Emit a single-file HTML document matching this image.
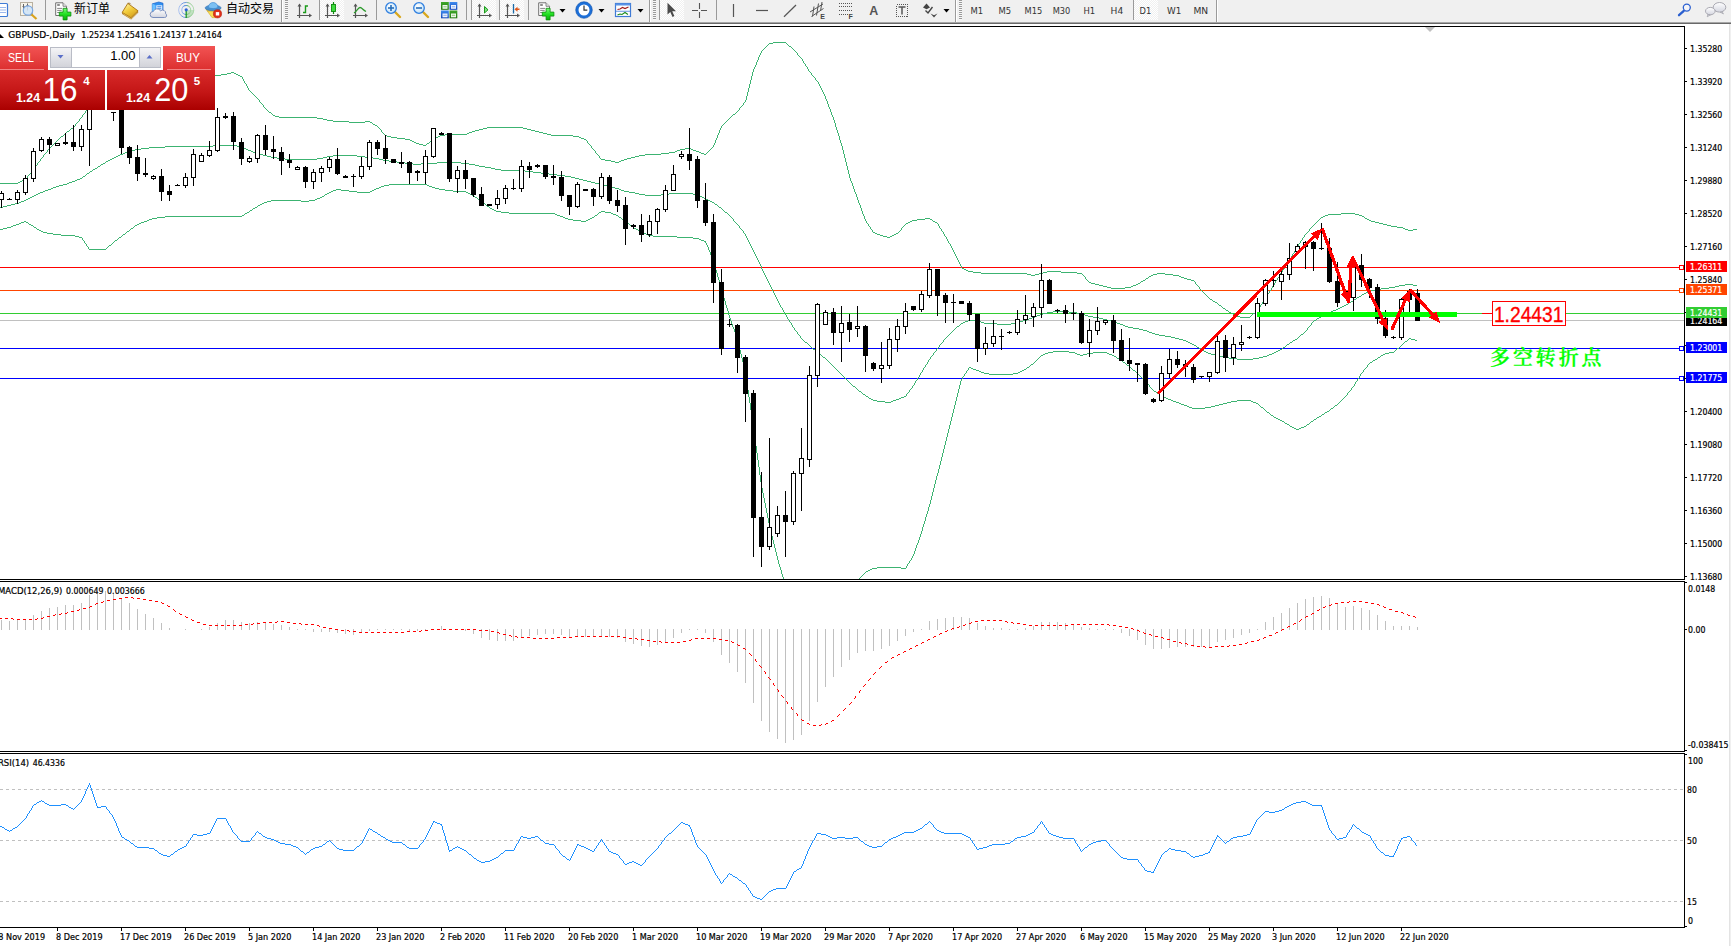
<!DOCTYPE html>
<html><head><meta charset="utf-8"><title>GBPUSD-,Daily</title>
<style>
html,body{margin:0;padding:0;background:#fff;overflow:hidden}
body{width:1731px;height:946px;position:relative;font-family:"Liberation Sans","Noto Sans CJK SC",sans-serif}
#tb{position:absolute;left:0;top:0;width:1731px;height:22px;background:#f0f0f0}
#tbline{position:absolute;left:0;top:22px;width:1731px;height:2px;background:linear-gradient(#a6a6a6,#a6a6a6 50%,#696969 50%,#696969)}
.tbt{position:absolute;top:1px;font-size:12px;line-height:16px;color:#000;white-space:nowrap}
.tf{position:absolute;top:4px;font-size:11px;line-height:13px;color:#3c3c3c;white-space:nowrap;transform-origin:0 0}
#chart{position:absolute;left:0;top:0}
svg text{font-family:"Liberation Sans","Noto Sans CJK SC",sans-serif}
svg text.tf2{font-family:'DejaVu Sans','Liberation Sans',sans-serif;font-stretch:condensed}
svg text.ct{stroke-width:0.2px;font-family:'DejaVu Sans','Liberation Sans',sans-serif;font-stretch:condensed}
#oct{position:absolute;left:0;top:46px;width:216px;height:64px}
</style></head><body>

<svg id="chart" width="1731" height="946" viewBox="0 0 1731 946">
<defs><clipPath id="cm"><rect x="0" y="27" width="1684" height="552"/></clipPath><clipPath id="c2"><rect x="0" y="582" width="1684" height="169"/></clipPath><clipPath id="c3"><rect x="0" y="754" width="1684" height="173"/></clipPath></defs>
<rect x="0" y="24" width="1731" height="922" fill="#fff"/>
<g clip-path="url(#cm)" shape-rendering="crispEdges">
<rect x="0" y="320" width="1684" height="1" fill="#c0c0c0"/>
<rect x="0" y="267" width="1684" height="1" fill="#ff0000"/>
<rect x="0" y="290" width="1684" height="1" fill="#ff4500"/>
<rect x="0" y="313" width="1684" height="1" fill="#32cd32"/>
<rect x="0" y="348" width="1684" height="1" fill="#0000ff"/>
<rect x="0" y="378" width="1684" height="1" fill="#0000ff"/>
<path d="M773 42h13v1h-13zM769 43h4v1h-4zM786 43h1v1h-1zM768 44h1v1h-1zM787 44h1v1h-1zM767 45h1v1h-1zM788 45h1v1h-1zM766 46h1v1h-1zM789 46h2v1h-2zM765 47h1v1h-1zM791 47h1v1h-1zM764 48h1v1h-1zM792 48h1v1h-1zM763 49h1v1h-1zM793 49h1v1h-1zM762 50h1v1h-1zM794 50h1v1h-1zM761 51h1v2h-1zM795 51h1v1h-1zM796 52h1v1h-1zM760 53h1v2h-1zM797 53h1v2h-1zM759 55h1v2h-1zM798 55h1v1h-1zM799 56h1v1h-1zM758 57h1v3h-1zM800 57h1v1h-1zM801 58h1v1h-1zM802 59h1v2h-1zM757 60h1v2h-1zM803 61h1v2h-1zM756 62h1v3h-1zM804 63h1v1h-1zM805 64h1v2h-1zM755 65h1v2h-1zM806 66h1v1h-1zM754 67h1v2h-1zM807 67h1v2h-1zM753 69h1v3h-1zM808 69h1v2h-1zM809 71h1v1h-1zM157 72h24v1h-24zM231 72h3v1h-3zM752 72h1v4h-1zM810 72h1v1h-1zM149 73h8v1h-8zM181 73h16v1h-16zM227 73h4v1h-4zM234 73h2v1h-2zM811 73h1v2h-1zM141 74h8v1h-8zM197 74h8v1h-8zM221 74h6v1h-6zM236 74h2v1h-2zM133 75h8v1h-8zM205 75h16v1h-16zM238 75h2v1h-2zM812 75h1v1h-1zM128 76h5v1h-5zM240 76h2v1h-2zM751 76h1v4h-1zM813 76h1v1h-1zM126 77h2v1h-2zM242 77h1v2h-1zM814 77h1v1h-1zM124 78h2v1h-2zM815 78h1v2h-1zM122 79h2v1h-2zM243 79h1v2h-1zM121 80h1v1h-1zM750 80h1v4h-1zM816 80h1v1h-1zM119 81h2v1h-2zM244 81h1v2h-1zM817 81h1v1h-1zM117 82h2v1h-2zM818 82h1v2h-1zM116 83h1v1h-1zM245 83h1v1h-1zM114 84h2v1h-2zM246 84h1v2h-1zM749 84h1v4h-1zM819 84h1v2h-1zM112 85h2v1h-2zM110 86h2v1h-2zM247 86h1v2h-1zM820 86h1v2h-1zM108 87h2v1h-2zM106 88h2v1h-2zM248 88h1v2h-1zM748 88h1v4h-1zM821 88h1v2h-1zM105 89h1v1h-1zM103 90h2v1h-2zM249 90h1v1h-1zM822 90h1v2h-1zM102 91h1v1h-1zM250 91h1v1h-1zM101 92h1v1h-1zM251 92h1v1h-1zM747 92h1v4h-1zM823 92h1v2h-1zM99 93h2v1h-2zM252 93h1v1h-1zM98 94h1v1h-1zM253 94h1v1h-1zM824 94h1v2h-1zM97 95h1v1h-1zM254 95h1v1h-1zM96 96h1v2h-1zM255 96h1v1h-1zM746 96h1v4h-1zM825 96h1v3h-1zM256 97h1v1h-1zM95 98h1v1h-1zM257 98h1v1h-1zM94 99h1v1h-1zM258 99h1v1h-1zM826 99h1v2h-1zM93 100h1v2h-1zM259 100h1v2h-1zM745 100h1v2h-1zM827 101h1v3h-1zM92 102h1v1h-1zM260 102h1v1h-1zM744 102h1v1h-1zM91 103h1v1h-1zM261 103h1v1h-1zM743 103h1v2h-1zM90 104h1v2h-1zM262 104h1v1h-1zM828 104h1v3h-1zM263 105h1v2h-1zM742 105h1v1h-1zM89 106h1v1h-1zM741 106h1v1h-1zM88 107h1v2h-1zM264 107h1v1h-1zM740 107h1v1h-1zM829 107h1v2h-1zM265 108h1v1h-1zM739 108h1v2h-1zM87 109h1v1h-1zM266 109h1v1h-1zM830 109h1v3h-1zM86 110h1v1h-1zM267 110h1v1h-1zM738 110h1v1h-1zM85 111h1v2h-1zM268 111h1v1h-1zM737 111h1v1h-1zM269 112h2v1h-2zM736 112h1v1h-1zM831 112h1v3h-1zM84 113h1v1h-1zM271 113h1v1h-1zM735 113h1v1h-1zM83 114h1v1h-1zM272 114h1v1h-1zM733 114h2v1h-2zM82 115h1v2h-1zM273 115h2v1h-2zM732 115h1v1h-1zM832 115h1v2h-1zM275 116h4v1h-4zM731 116h1v1h-1zM81 117h1v1h-1zM279 117h38v1h-38zM730 117h1v1h-1zM833 117h1v3h-1zM80 118h1v1h-1zM317 118h6v1h-6zM729 118h1v1h-1zM79 119h1v2h-1zM323 119h4v1h-4zM728 119h1v1h-1zM327 120h6v1h-6zM727 120h1v1h-1zM834 120h1v3h-1zM78 121h1v1h-1zM333 121h16v1h-16zM365 121h5v1h-5zM726 121h1v1h-1zM77 122h1v1h-1zM349 122h16v1h-16zM370 122h2v1h-2zM725 122h1v1h-1zM76 123h1v1h-1zM372 123h1v1h-1zM724 123h1v1h-1zM835 123h1v4h-1zM75 124h1v2h-1zM373 124h2v1h-2zM723 124h1v1h-1zM375 125h2v1h-2zM722 125h1v1h-1zM74 126h1v1h-1zM377 126h1v1h-1zM721 126h1v2h-1zM73 127h1v1h-1zM378 127h1v1h-1zM487 127h36v1h-36zM836 127h1v3h-1zM71 128h2v1h-2zM379 128h1v1h-1zM483 128h4v1h-4zM523 128h4v1h-4zM720 128h1v2h-1zM70 129h1v1h-1zM380 129h1v1h-1zM479 129h4v1h-4zM527 129h4v1h-4zM69 130h1v1h-1zM381 130h1v2h-1zM475 130h4v1h-4zM531 130h4v1h-4zM719 130h1v3h-1zM837 130h1v3h-1zM67 131h2v1h-2zM472 131h3v1h-3zM535 131h4v1h-4zM66 132h1v1h-1zM382 132h1v1h-1zM469 132h3v1h-3zM539 132h4v1h-4zM65 133h1v1h-1zM383 133h1v1h-1zM467 133h2v1h-2zM543 133h4v1h-4zM718 133h1v2h-1zM838 133h1v3h-1zM64 134h1v1h-1zM384 134h1v1h-1zM445 134h22v1h-22zM547 134h4v1h-4zM63 135h1v1h-1zM385 135h2v1h-2zM440 135h5v1h-5zM551 135h22v1h-22zM717 135h1v3h-1zM61 136h2v1h-2zM387 136h4v1h-4zM438 136h2v1h-2zM573 136h6v1h-6zM839 136h1v4h-1zM60 137h1v1h-1zM391 137h6v1h-6zM436 137h2v1h-2zM579 137h2v1h-2zM59 138h1v1h-1zM397 138h8v1h-8zM434 138h2v1h-2zM581 138h3v1h-3zM716 138h1v2h-1zM58 139h1v1h-1zM405 139h5v1h-5zM433 139h1v1h-1zM584 139h2v1h-2zM57 140h1v1h-1zM410 140h2v1h-2zM431 140h2v1h-2zM586 140h1v1h-1zM715 140h1v3h-1zM840 140h1v3h-1zM56 141h1v1h-1zM412 141h2v1h-2zM430 141h1v1h-1zM587 141h1v2h-1zM55 142h1v1h-1zM414 142h2v1h-2zM429 142h1v1h-1zM54 143h1v1h-1zM416 143h3v1h-3zM427 143h2v1h-2zM588 143h1v1h-1zM714 143h1v2h-1zM841 143h1v3h-1zM53 144h1v1h-1zM419 144h4v1h-4zM426 144h1v1h-1zM589 144h1v1h-1zM52 145h1v1h-1zM423 145h3v1h-3zM590 145h1v1h-1zM713 145h1v2h-1zM51 146h1v1h-1zM591 146h1v2h-1zM842 146h1v4h-1zM50 147h1v1h-1zM712 147h1v1h-1zM49 148h1v1h-1zM592 148h1v1h-1zM685 148h6v1h-6zM711 148h1v1h-1zM48 149h1v1h-1zM593 149h1v1h-1zM680 149h5v1h-5zM691 149h2v1h-2zM710 149h1v1h-1zM47 150h1v2h-1zM594 150h1v1h-1zM677 150h3v1h-3zM693 150h3v1h-3zM709 150h1v1h-1zM843 150h1v4h-1zM595 151h1v2h-1zM675 151h2v1h-2zM696 151h3v1h-3zM708 151h1v1h-1zM46 152h1v1h-1zM669 152h6v1h-6zM699 152h2v1h-2zM707 152h1v1h-1zM45 153h1v1h-1zM596 153h1v1h-1zM661 153h8v1h-8zM701 153h3v1h-3zM706 153h1v1h-1zM44 154h1v1h-1zM597 154h1v1h-1zM645 154h16v1h-16zM704 154h2v1h-2zM844 154h1v4h-1zM43 155h1v2h-1zM598 155h1v1h-1zM639 155h6v1h-6zM599 156h1v2h-1zM635 156h4v1h-4zM42 157h1v1h-1zM631 157h4v1h-4zM41 158h1v1h-1zM600 158h1v1h-1zM627 158h4v1h-4zM845 158h1v4h-1zM40 159h1v2h-1zM601 159h4v1h-4zM624 159h3v1h-3zM605 160h6v1h-6zM621 160h3v1h-3zM39 161h1v1h-1zM611 161h4v1h-4zM619 161h2v1h-2zM38 162h1v1h-1zM615 162h4v1h-4zM846 162h1v4h-1zM37 163h1v2h-1zM36 165h1v1h-1zM35 166h1v1h-1zM847 166h1v4h-1zM34 167h1v2h-1zM33 169h1v1h-1zM32 170h1v1h-1zM848 170h1v4h-1zM31 171h1v2h-1zM30 173h1v1h-1zM29 174h1v1h-1zM849 174h1v4h-1zM28 175h1v1h-1zM27 176h1v2h-1zM26 178h1v1h-1zM850 178h1v3h-1zM24 179h2v1h-2zM22 180h2v1h-2zM20 181h2v1h-2zM851 181h1v2h-1zM18 182h2v1h-2zM-7 183h25v1h-25zM852 183h1v3h-1zM853 186h1v3h-1zM854 189h1v3h-1zM855 192h1v2h-1zM856 194h1v3h-1zM857 197h1v3h-1zM858 200h1v3h-1zM859 203h1v2h-1zM860 205h1v3h-1zM861 208h1v3h-1zM862 211h1v3h-1zM1341 213h14v1h-14zM863 214h1v2h-1zM1328 214h13v1h-13zM1355 214h4v1h-4zM1325 215h3v1h-3zM1359 215h3v1h-3zM864 216h1v3h-1zM1323 216h2v1h-2zM1362 216h2v1h-2zM1321 217h2v1h-2zM1364 217h1v1h-1zM925 218h5v1h-5zM1320 218h1v1h-1zM1365 218h2v1h-2zM865 219h1v2h-1zM917 219h8v1h-8zM930 219h2v1h-2zM1319 219h1v1h-1zM1367 219h2v1h-2zM912 220h5v1h-5zM932 220h1v1h-1zM1318 220h1v1h-1zM1369 220h2v1h-2zM866 221h1v2h-1zM910 221h2v1h-2zM933 221h2v1h-2zM1317 221h1v1h-1zM1371 221h4v1h-4zM908 222h2v1h-2zM935 222h2v1h-2zM1316 222h1v1h-1zM1375 222h4v1h-4zM867 223h1v1h-1zM906 223h2v1h-2zM937 223h1v1h-1zM1315 223h1v1h-1zM1379 223h4v1h-4zM868 224h1v2h-1zM905 224h1v1h-1zM938 224h1v2h-1zM1314 224h1v1h-1zM1383 224h4v1h-4zM904 225h1v1h-1zM1313 225h1v1h-1zM1387 225h4v1h-4zM869 226h1v1h-1zM903 226h1v1h-1zM939 226h1v2h-1zM1312 226h1v1h-1zM1391 226h6v1h-6zM870 227h1v2h-1zM902 227h1v1h-1zM1311 227h1v1h-1zM1397 227h6v1h-6zM901 228h1v2h-1zM940 228h1v1h-1zM1310 228h1v1h-1zM1403 228h2v1h-2zM871 229h1v1h-1zM941 229h1v2h-1zM1309 229h1v2h-1zM1405 229h3v1h-3zM1413 229h4v1h-4zM872 230h1v2h-1zM900 230h1v1h-1zM1408 230h5v1h-5zM899 231h1v1h-1zM942 231h1v1h-1zM1308 231h1v1h-1zM873 232h2v1h-2zM898 232h1v1h-1zM943 232h1v2h-1zM1307 232h1v1h-1zM875 233h2v1h-2zM896 233h2v1h-2zM1306 233h1v1h-1zM877 234h3v1h-3zM894 234h2v1h-2zM944 234h1v2h-1zM1305 234h1v1h-1zM880 235h3v1h-3zM892 235h2v1h-2zM1304 235h1v2h-1zM883 236h4v1h-4zM890 236h2v1h-2zM945 236h1v1h-1zM887 237h3v1h-3zM946 237h1v2h-1zM1303 237h1v1h-1zM1302 238h1v2h-1zM947 239h1v2h-1zM1301 240h1v1h-1zM948 241h1v2h-1zM1300 241h1v2h-1zM949 243h1v1h-1zM1299 243h1v1h-1zM950 244h1v2h-1zM1298 244h1v2h-1zM951 246h1v2h-1zM1297 246h1v1h-1zM1296 247h1v2h-1zM952 248h1v2h-1zM1295 249h1v2h-1zM953 250h1v2h-1zM1294 251h1v2h-1zM954 252h1v2h-1zM1293 253h1v1h-1zM955 254h1v2h-1zM1292 254h1v2h-1zM956 256h1v2h-1zM1291 256h1v2h-1zM957 258h1v2h-1zM1290 258h1v2h-1zM958 260h1v2h-1zM1289 260h1v1h-1zM1288 261h1v2h-1zM959 262h1v2h-1zM1287 263h1v1h-1zM960 264h1v2h-1zM1286 264h1v2h-1zM961 266h1v2h-1zM1285 266h1v1h-1zM1284 267h1v2h-1zM962 268h2v1h-2zM964 269h2v1h-2zM1283 269h1v1h-1zM966 270h2v1h-2zM1282 270h1v2h-1zM968 271h5v1h-5zM1047 271h14v1h-14zM973 272h8v1h-8zM1043 272h4v1h-4zM1061 272h16v1h-16zM1281 272h1v1h-1zM981 273h46v1h-46zM1039 273h4v1h-4zM1077 273h5v1h-5zM1157 273h8v1h-8zM1280 273h1v2h-1zM1027 274h4v1h-4zM1035 274h4v1h-4zM1082 274h1v1h-1zM1153 274h4v1h-4zM1165 274h8v1h-8zM1031 275h4v1h-4zM1083 275h1v1h-1zM1151 275h2v1h-2zM1173 275h6v1h-6zM1279 275h1v2h-1zM1084 276h1v1h-1zM1149 276h2v1h-2zM1179 276h2v1h-2zM1085 277h1v2h-1zM1148 277h1v1h-1zM1181 277h3v1h-3zM1278 277h1v1h-1zM1146 278h2v1h-2zM1184 278h3v1h-3zM1277 278h1v2h-1zM1086 279h1v1h-1zM1145 279h1v1h-1zM1187 279h4v1h-4zM1087 280h1v1h-1zM1143 280h2v1h-2zM1191 280h3v1h-3zM1276 280h1v1h-1zM1088 281h1v1h-1zM1141 281h2v1h-2zM1194 281h1v1h-1zM1275 281h1v2h-1zM1089 282h2v1h-2zM1140 282h1v1h-1zM1195 282h1v2h-1zM1091 283h4v1h-4zM1138 283h2v1h-2zM1274 283h1v2h-1zM1095 284h4v1h-4zM1136 284h2v1h-2zM1196 284h1v1h-1zM1099 285h4v1h-4zM1133 285h3v1h-3zM1197 285h1v1h-1zM1273 285h1v1h-1zM1103 286h4v1h-4zM1131 286h2v1h-2zM1198 286h1v1h-1zM1272 286h1v2h-1zM1107 287h4v1h-4zM1125 287h6v1h-6zM1199 287h1v2h-1zM1111 288h14v1h-14zM1271 288h1v2h-1zM1200 289h1v1h-1zM1201 290h1v1h-1zM1270 290h1v1h-1zM1202 291h1v1h-1zM1269 291h1v2h-1zM1203 292h1v1h-1zM1204 293h1v1h-1zM1268 293h1v1h-1zM1205 294h1v1h-1zM1267 294h1v2h-1zM1206 295h1v1h-1zM1207 296h1v1h-1zM1266 296h1v2h-1zM1208 297h1v1h-1zM1209 298h1v1h-1zM1265 298h1v1h-1zM1210 299h2v1h-2zM1264 299h1v2h-1zM1212 300h1v1h-1zM1213 301h2v1h-2zM1263 301h1v1h-1zM1215 302h2v1h-2zM1262 302h1v2h-1zM1217 303h1v1h-1zM1218 304h1v1h-1zM1261 304h1v1h-1zM1219 305h2v1h-2zM1260 305h1v2h-1zM1221 306h1v1h-1zM1222 307h1v1h-1zM1259 307h1v1h-1zM1223 308h2v1h-2zM1258 308h1v2h-1zM1225 309h1v1h-1zM1226 310h2v1h-2zM1257 310h1v1h-1zM1228 311h1v1h-1zM1256 311h1v1h-1zM1229 312h2v1h-2zM1255 312h1v1h-1zM1231 313h2v1h-2zM1253 313h2v1h-2zM1233 314h2v1h-2zM1252 314h1v1h-1zM1235 315h2v1h-2zM1251 315h1v1h-1zM1237 316h3v1h-3zM1250 316h1v1h-1zM1240 317h10v1h-10z" fill="#3cb371"/>
<path d="M213 145h24v1h-24zM165 146h48v1h-48zM237 146h5v1h-5zM149 147h16v1h-16zM242 147h2v1h-2zM141 148h8v1h-8zM244 148h2v1h-2zM135 149h6v1h-6zM246 149h2v1h-2zM131 150h4v1h-4zM248 150h3v1h-3zM128 151h3v1h-3zM251 151h2v1h-2zM125 152h3v1h-3zM253 152h3v1h-3zM123 153h2v1h-2zM256 153h3v1h-3zM120 154h3v1h-3zM259 154h4v1h-4zM118 155h2v1h-2zM263 155h4v1h-4zM333 155h24v1h-24zM116 156h2v1h-2zM267 156h4v1h-4zM327 156h6v1h-6zM357 156h8v1h-8zM114 157h2v1h-2zM271 157h6v1h-6zM323 157h4v1h-4zM365 157h8v1h-8zM112 158h2v1h-2zM277 158h8v1h-8zM317 158h6v1h-6zM373 158h6v1h-6zM110 159h2v1h-2zM285 159h32v1h-32zM379 159h4v1h-4zM108 160h2v1h-2zM383 160h6v1h-6zM106 161h2v1h-2zM389 161h8v1h-8zM105 162h1v1h-1zM397 162h8v1h-8zM437 162h24v1h-24zM103 163h2v1h-2zM405 163h8v1h-8zM421 163h16v1h-16zM461 163h8v1h-8zM101 164h2v1h-2zM413 164h8v1h-8zM469 164h6v1h-6zM100 165h1v1h-1zM475 165h4v1h-4zM98 166h2v1h-2zM479 166h6v1h-6zM97 167h1v1h-1zM485 167h6v1h-6zM95 168h2v1h-2zM491 168h4v1h-4zM93 169h2v1h-2zM495 169h6v1h-6zM92 170h1v1h-1zM501 170h24v1h-24zM90 171h2v1h-2zM525 171h8v1h-8zM89 172h1v1h-1zM533 172h8v1h-8zM87 173h2v1h-2zM541 173h8v1h-8zM86 174h1v1h-1zM549 174h8v1h-8zM85 175h1v1h-1zM557 175h8v1h-8zM83 176h2v1h-2zM565 176h6v1h-6zM82 177h1v1h-1zM571 177h4v1h-4zM80 178h2v1h-2zM575 178h4v1h-4zM77 179h3v1h-3zM579 179h4v1h-4zM75 180h2v1h-2zM583 180h4v1h-4zM72 181h3v1h-3zM587 181h4v1h-4zM69 182h3v1h-3zM591 182h4v1h-4zM67 183h2v1h-2zM595 183h4v1h-4zM63 184h4v1h-4zM599 184h4v1h-4zM59 185h4v1h-4zM603 185h4v1h-4zM56 186h3v1h-3zM607 186h4v1h-4zM53 187h3v1h-3zM611 187h4v1h-4zM51 188h2v1h-2zM615 188h4v1h-4zM48 189h3v1h-3zM619 189h2v1h-2zM45 190h3v1h-3zM621 190h3v1h-3zM43 191h2v1h-2zM624 191h5v1h-5zM40 192h3v1h-3zM629 192h6v1h-6zM38 193h2v1h-2zM635 193h4v1h-4zM669 193h24v1h-24zM36 194h2v1h-2zM639 194h6v1h-6zM661 194h8v1h-8zM693 194h5v1h-5zM34 195h2v1h-2zM645 195h16v1h-16zM698 195h2v1h-2zM32 196h2v1h-2zM700 196h2v1h-2zM30 197h2v1h-2zM702 197h2v1h-2zM28 198h2v1h-2zM704 198h2v1h-2zM26 199h2v1h-2zM706 199h2v1h-2zM24 200h2v1h-2zM708 200h2v1h-2zM21 201h3v1h-3zM710 201h2v1h-2zM19 202h2v1h-2zM712 202h2v1h-2zM15 203h4v1h-4zM714 203h1v1h-1zM11 204h4v1h-4zM715 204h2v1h-2zM7 205h4v1h-4zM717 205h1v1h-1zM3 206h4v1h-4zM718 206h1v1h-1zM-7 207h10v1h-10zM719 207h2v1h-2zM721 208h1v1h-1zM722 209h1v1h-1zM723 210h1v1h-1zM724 211h1v1h-1zM725 212h2v1h-2zM727 213h1v1h-1zM728 214h1v1h-1zM729 215h1v1h-1zM730 216h1v1h-1zM731 217h1v1h-1zM732 218h1v1h-1zM733 219h1v2h-1zM734 221h1v1h-1zM735 222h1v1h-1zM736 223h1v1h-1zM737 224h1v1h-1zM738 225h1v1h-1zM739 226h1v2h-1zM740 228h1v1h-1zM741 229h1v1h-1zM742 230h1v1h-1zM743 231h1v2h-1zM744 233h1v1h-1zM745 234h1v2h-1zM746 236h1v2h-1zM747 238h1v2h-1zM748 240h1v2h-1zM749 242h1v2h-1zM750 244h1v2h-1zM751 246h1v2h-1zM752 248h1v2h-1zM753 250h1v2h-1zM754 252h1v2h-1zM755 254h1v2h-1zM756 256h1v2h-1zM757 258h1v2h-1zM758 260h1v2h-1zM759 262h1v2h-1zM760 264h1v2h-1zM761 266h1v3h-1zM762 269h1v2h-1zM763 271h1v2h-1zM764 273h1v2h-1zM765 275h1v2h-1zM766 277h1v2h-1zM767 279h1v2h-1zM768 281h1v2h-1zM769 283h1v2h-1zM1405 284h8v1h-8zM770 285h1v2h-1zM1399 285h6v1h-6zM1413 285h4v1h-4zM1395 286h4v1h-4zM771 287h1v2h-1zM1389 287h6v1h-6zM1381 288h8v1h-8zM772 289h1v2h-1zM1375 289h6v1h-6zM1371 290h4v1h-4zM773 291h1v2h-1zM1368 291h3v1h-3zM1366 292h2v1h-2zM774 293h1v2h-1zM1364 293h2v1h-2zM1362 294h2v1h-2zM775 295h1v2h-1zM1361 295h1v1h-1zM1359 296h2v1h-2zM776 297h1v2h-1zM1357 297h2v1h-2zM1356 298h1v1h-1zM777 299h1v2h-1zM1354 299h2v1h-2zM1353 300h1v1h-1zM778 301h1v2h-1zM1351 301h2v1h-2zM1349 302h2v1h-2zM779 303h1v2h-1zM1348 303h1v1h-1zM1346 304h2v1h-2zM780 305h1v2h-1zM1344 305h2v1h-2zM1342 306h2v1h-2zM781 307h1v1h-1zM1340 307h2v1h-2zM782 308h1v2h-1zM1338 308h2v1h-2zM1336 309h2v1h-2zM783 310h1v2h-1zM1333 310h3v1h-3zM1053 311h16v1h-16zM1331 311h2v1h-2zM784 312h1v2h-1zM1047 312h6v1h-6zM1069 312h8v1h-8zM1328 312h3v1h-3zM1043 313h4v1h-4zM1077 313h6v1h-6zM1326 313h2v1h-2zM785 314h1v1h-1zM1040 314h3v1h-3zM1083 314h2v1h-2zM1324 314h2v1h-2zM786 315h1v2h-1zM1037 315h3v1h-3zM1085 315h3v1h-3zM1322 315h2v1h-2zM1035 316h2v1h-2zM1088 316h5v1h-5zM1321 316h1v1h-1zM787 317h1v2h-1zM1032 317h3v1h-3zM1093 317h6v1h-6zM1319 317h2v1h-2zM1029 318h3v1h-3zM1099 318h4v1h-4zM1317 318h2v1h-2zM788 319h1v1h-1zM1027 319h2v1h-2zM1103 319h4v1h-4zM1316 319h1v1h-1zM789 320h1v2h-1zM968 320h11v1h-11zM1023 320h4v1h-4zM1107 320h4v1h-4zM1314 320h2v1h-2zM965 321h3v1h-3zM979 321h2v1h-2zM1019 321h4v1h-4zM1111 321h4v1h-4zM1313 321h1v1h-1zM790 322h1v1h-1zM963 322h2v1h-2zM981 322h3v1h-3zM1015 322h4v1h-4zM1115 322h2v1h-2zM1312 322h1v1h-1zM791 323h1v2h-1zM961 323h2v1h-2zM984 323h13v1h-13zM1011 323h4v1h-4zM1117 323h3v1h-3zM1311 323h1v2h-1zM960 324h1v1h-1zM997 324h14v1h-14zM1120 324h3v1h-3zM792 325h1v2h-1zM959 325h1v1h-1zM1123 325h2v1h-2zM1310 325h1v1h-1zM957 326h2v1h-2zM1125 326h3v1h-3zM1309 326h1v1h-1zM793 327h1v1h-1zM956 327h1v1h-1zM1128 327h5v1h-5zM1308 327h1v1h-1zM794 328h1v2h-1zM955 328h1v1h-1zM1133 328h6v1h-6zM1307 328h1v2h-1zM954 329h1v1h-1zM1139 329h4v1h-4zM795 330h1v1h-1zM953 330h1v1h-1zM1143 330h4v1h-4zM1306 330h1v1h-1zM796 331h1v1h-1zM952 331h1v1h-1zM1147 331h2v1h-2zM1305 331h1v1h-1zM797 332h1v2h-1zM951 332h1v1h-1zM1149 332h3v1h-3zM1304 332h1v1h-1zM950 333h1v1h-1zM1152 333h3v1h-3zM1303 333h1v1h-1zM798 334h1v1h-1zM949 334h1v1h-1zM1155 334h4v1h-4zM1301 334h2v1h-2zM799 335h1v1h-1zM948 335h1v1h-1zM1159 335h6v1h-6zM1300 335h1v1h-1zM800 336h1v2h-1zM947 336h1v1h-1zM1165 336h6v1h-6zM1299 336h1v1h-1zM946 337h1v1h-1zM1171 337h4v1h-4zM1298 337h1v1h-1zM801 338h1v1h-1zM945 338h1v1h-1zM1175 338h4v1h-4zM1297 338h1v1h-1zM802 339h1v1h-1zM944 339h1v1h-1zM1179 339h4v1h-4zM1295 339h2v1h-2zM803 340h1v1h-1zM943 340h1v2h-1zM1183 340h3v1h-3zM1293 340h2v1h-2zM804 341h1v1h-1zM1186 341h2v1h-2zM1292 341h1v1h-1zM805 342h2v1h-2zM942 342h1v1h-1zM1188 342h2v1h-2zM1290 342h2v1h-2zM807 343h1v1h-1zM941 343h1v1h-1zM1190 343h2v1h-2zM1289 343h1v1h-1zM808 344h1v1h-1zM940 344h1v1h-1zM1192 344h2v1h-2zM1287 344h2v1h-2zM809 345h1v1h-1zM939 345h1v2h-1zM1194 345h2v1h-2zM1286 345h1v1h-1zM810 346h1v1h-1zM1196 346h1v1h-1zM1285 346h1v1h-1zM811 347h1v1h-1zM938 347h1v1h-1zM1197 347h2v1h-2zM1283 347h2v1h-2zM812 348h1v1h-1zM937 348h1v1h-1zM1199 348h2v1h-2zM1282 348h1v1h-1zM813 349h2v1h-2zM936 349h1v2h-1zM1201 349h1v1h-1zM1280 349h2v1h-2zM815 350h1v1h-1zM1202 350h2v1h-2zM1278 350h2v1h-2zM816 351h1v1h-1zM935 351h1v1h-1zM1204 351h2v1h-2zM1276 351h2v1h-2zM817 352h1v1h-1zM934 352h1v1h-1zM1206 352h2v1h-2zM1274 352h2v1h-2zM818 353h1v1h-1zM933 353h1v2h-1zM1208 353h3v1h-3zM1272 353h2v1h-2zM819 354h2v1h-2zM1211 354h4v1h-4zM1269 354h3v1h-3zM821 355h1v1h-1zM932 355h1v1h-1zM1215 355h4v1h-4zM1267 355h2v1h-2zM822 356h1v1h-1zM931 356h1v1h-1zM1219 356h4v1h-4zM1263 356h4v1h-4zM823 357h2v1h-2zM930 357h1v2h-1zM1223 357h6v1h-6zM1259 357h4v1h-4zM825 358h1v1h-1zM1229 358h8v1h-8zM1253 358h6v1h-6zM826 359h1v1h-1zM929 359h1v1h-1zM1237 359h16v1h-16zM827 360h1v1h-1zM928 360h1v2h-1zM828 361h1v1h-1zM829 362h1v1h-1zM927 362h1v2h-1zM830 363h1v1h-1zM831 364h1v1h-1zM926 364h1v1h-1zM832 365h1v1h-1zM925 365h1v2h-1zM833 366h1v1h-1zM834 367h1v1h-1zM924 367h1v1h-1zM835 368h1v1h-1zM923 368h1v2h-1zM836 369h1v1h-1zM837 370h1v1h-1zM922 370h1v2h-1zM838 371h1v1h-1zM839 372h1v1h-1zM921 372h1v1h-1zM840 373h1v1h-1zM920 373h1v2h-1zM841 374h1v1h-1zM842 375h1v1h-1zM919 375h1v2h-1zM843 376h1v1h-1zM844 377h1v1h-1zM918 377h1v1h-1zM845 378h1v1h-1zM917 378h1v2h-1zM846 379h1v1h-1zM847 380h1v1h-1zM916 380h1v1h-1zM848 381h1v1h-1zM915 381h1v2h-1zM849 382h1v1h-1zM850 383h1v1h-1zM914 383h1v2h-1zM851 384h1v1h-1zM852 385h1v1h-1zM913 385h1v1h-1zM853 386h2v1h-2zM912 386h1v2h-1zM855 387h1v1h-1zM856 388h1v1h-1zM911 388h1v1h-1zM857 389h1v1h-1zM910 389h1v1h-1zM858 390h1v1h-1zM909 390h1v2h-1zM859 391h2v1h-2zM861 392h1v1h-1zM908 392h1v1h-1zM862 393h1v1h-1zM907 393h1v1h-1zM863 394h2v1h-2zM906 394h1v2h-1zM865 395h1v1h-1zM866 396h2v1h-2zM904 396h2v1h-2zM868 397h1v1h-1zM901 397h3v1h-3zM869 398h2v1h-2zM899 398h2v1h-2zM871 399h2v1h-2zM896 399h3v1h-3zM873 400h4v1h-4zM893 400h3v1h-3zM877 401h8v1h-8zM891 401h2v1h-2zM885 402h6v1h-6z" fill="#3cb371"/>
<path d="M389 184h38v1h-38zM384 185h5v1h-5zM427 185h2v1h-2zM381 186h3v1h-3zM429 186h3v1h-3zM379 187h2v1h-2zM432 187h3v1h-3zM376 188h3v1h-3zM435 188h4v1h-4zM336 189h5v1h-5zM374 189h2v1h-2zM439 189h6v1h-6zM333 190h3v1h-3zM341 190h8v1h-8zM372 190h2v1h-2zM445 190h8v1h-8zM331 191h2v1h-2zM349 191h8v1h-8zM370 191h2v1h-2zM453 191h13v1h-13zM329 192h2v1h-2zM357 192h13v1h-13zM466 192h2v1h-2zM327 193h2v1h-2zM468 193h2v1h-2zM325 194h2v1h-2zM470 194h2v1h-2zM324 195h1v1h-1zM472 195h2v1h-2zM322 196h2v1h-2zM474 196h1v1h-1zM320 197h2v1h-2zM475 197h2v1h-2zM317 198h3v1h-3zM477 198h1v1h-1zM315 199h2v1h-2zM478 199h1v1h-1zM271 200h30v1h-30zM309 200h6v1h-6zM479 200h2v1h-2zM267 201h4v1h-4zM301 201h8v1h-8zM481 201h1v1h-1zM264 202h3v1h-3zM482 202h1v1h-1zM262 203h2v1h-2zM483 203h2v1h-2zM260 204h2v1h-2zM485 204h1v1h-1zM258 205h2v1h-2zM486 205h1v1h-1zM257 206h1v1h-1zM487 206h2v1h-2zM255 207h2v1h-2zM489 207h1v1h-1zM253 208h2v1h-2zM490 208h2v1h-2zM252 209h1v1h-1zM492 209h2v1h-2zM250 210h2v1h-2zM494 210h2v1h-2zM249 211h1v1h-1zM496 211h5v1h-5zM601 211h4v1h-4zM247 212h2v1h-2zM501 212h8v1h-8zM599 212h2v1h-2zM605 212h6v1h-6zM245 213h2v1h-2zM509 213h46v1h-46zM598 213h1v1h-1zM611 213h2v1h-2zM244 214h1v1h-1zM555 214h2v1h-2zM597 214h1v1h-1zM613 214h3v1h-3zM242 215h2v1h-2zM557 215h3v1h-3zM595 215h2v1h-2zM616 215h2v1h-2zM165 216h77v1h-77zM560 216h3v1h-3zM594 216h1v1h-1zM618 216h1v1h-1zM157 217h8v1h-8zM563 217h2v1h-2zM592 217h2v1h-2zM619 217h2v1h-2zM152 218h5v1h-5zM565 218h3v1h-3zM590 218h2v1h-2zM621 218h1v1h-1zM149 219h3v1h-3zM568 219h5v1h-5zM588 219h2v1h-2zM622 219h1v1h-1zM147 220h2v1h-2zM573 220h8v1h-8zM586 220h2v1h-2zM623 220h2v1h-2zM24 221h2v1h-2zM144 221h3v1h-3zM581 221h5v1h-5zM625 221h1v1h-1zM21 222h3v1h-3zM26 222h2v1h-2zM141 222h3v1h-3zM626 222h1v1h-1zM19 223h2v1h-2zM28 223h1v1h-1zM139 223h2v1h-2zM627 223h2v1h-2zM16 224h3v1h-3zM29 224h2v1h-2zM137 224h2v1h-2zM629 224h1v1h-1zM13 225h3v1h-3zM31 225h2v1h-2zM135 225h2v1h-2zM630 225h1v1h-1zM11 226h2v1h-2zM33 226h1v1h-1zM134 226h1v1h-1zM631 226h2v1h-2zM7 227h4v1h-4zM34 227h2v1h-2zM133 227h1v1h-1zM633 227h1v1h-1zM3 228h4v1h-4zM36 228h1v1h-1zM131 228h2v1h-2zM634 228h2v1h-2zM-3 229h6v1h-6zM37 229h2v1h-2zM130 229h1v1h-1zM636 229h2v1h-2zM-7 230h4v1h-4zM39 230h2v1h-2zM129 230h1v1h-1zM638 230h2v1h-2zM41 231h2v1h-2zM127 231h2v1h-2zM640 231h2v1h-2zM43 232h4v1h-4zM126 232h1v1h-1zM642 232h2v1h-2zM47 233h6v1h-6zM125 233h1v1h-1zM644 233h2v1h-2zM53 234h8v1h-8zM123 234h2v1h-2zM646 234h2v1h-2zM61 235h14v1h-14zM122 235h1v1h-1zM648 235h5v1h-5zM75 236h4v1h-4zM121 236h1v1h-1zM653 236h24v1h-24zM79 237h3v1h-3zM119 237h2v1h-2zM677 237h16v1h-16zM82 238h1v2h-1zM118 238h1v1h-1zM693 238h6v1h-6zM117 239h1v1h-1zM699 239h2v1h-2zM83 240h1v1h-1zM115 240h2v1h-2zM701 240h3v1h-3zM84 241h1v2h-1zM114 241h1v1h-1zM704 241h2v1h-2zM113 242h1v1h-1zM705 242h1v1h-1zM85 243h1v1h-1zM112 243h1v1h-1zM706 243h1v2h-1zM86 244h1v2h-1zM111 244h1v1h-1zM109 245h2v1h-2zM707 245h1v2h-1zM87 246h1v1h-1zM108 246h1v1h-1zM88 247h1v2h-1zM107 247h1v1h-1zM708 247h1v3h-1zM106 248h1v1h-1zM89 249h17v1h-17zM709 250h1v2h-1zM710 252h1v3h-1zM711 255h1v2h-1zM712 257h1v2h-1zM713 259h1v3h-1zM714 262h1v4h-1zM715 266h1v4h-1zM716 270h1v3h-1zM717 273h1v4h-1zM718 277h1v3h-1zM719 280h1v4h-1zM720 284h1v4h-1zM721 288h1v3h-1zM722 291h1v4h-1zM723 295h1v3h-1zM724 298h1v3h-1zM725 301h1v4h-1zM726 305h1v3h-1zM727 308h1v3h-1zM728 311h1v4h-1zM729 315h1v3h-1zM730 318h1v3h-1zM731 321h1v3h-1zM732 324h1v3h-1zM733 327h1v2h-1zM734 329h1v3h-1zM735 332h1v3h-1zM736 335h1v3h-1zM737 338h1v4h-1zM738 342h1v4h-1zM739 346h1v4h-1zM740 350h1v4h-1zM741 354h1v4h-1zM742 358h1v4h-1zM743 362h1v4h-1zM744 366h1v4h-1zM745 370h1v6h-1zM746 376h1v7h-1zM747 383h1v7h-1zM748 390h1v7h-1zM749 397h1v6h-1zM750 403h1v7h-1zM751 410h1v7h-1zM752 417h1v7h-1zM753 424h1v7h-1zM754 431h1v7h-1zM755 438h1v8h-1zM756 446h1v7h-1zM757 453h1v7h-1zM758 460h1v7h-1zM759 467h1v8h-1zM760 475h1v7h-1zM761 482h1v6h-1zM762 488h1v5h-1zM763 493h1v5h-1zM764 498h1v5h-1zM765 503h1v5h-1zM766 508h1v5h-1zM767 513h1v5h-1zM768 518h1v5h-1zM769 523h1v5h-1zM770 528h1v4h-1zM771 532h1v4h-1zM772 536h1v4h-1zM773 540h1v4h-1zM774 544h1v4h-1zM775 548h1v4h-1zM776 552h1v4h-1zM777 556h1v4h-1zM778 560h1v4h-1zM779 564h1v3h-1zM780 567h1v3h-1zM781 570h1v4h-1zM782 574h1v3h-1zM783 577h1v3h-1zM784 580h1v4h-1zM785 584h1v2h-1zM786 586h1v2h-1zM787 588h1v2h-1zM788 590h1v2h-1zM789 592h1v2h-1zM790 594h1v2h-1zM791 596h1v2h-1zM792 598h1v2h-1z" fill="#3cb371"/>
<path d="M1409 338h2v1h-2zM1408 339h1v1h-1zM1411 339h4v1h-4zM1407 340h1v1h-1zM1415 340h2v1h-2zM1405 341h2v1h-2zM1404 342h1v1h-1zM1403 343h1v1h-1zM1402 344h1v1h-1zM1401 345h1v1h-1zM1400 346h1v1h-1zM1399 347h1v1h-1zM1397 348h2v1h-2zM1396 349h1v1h-1zM1395 350h1v1h-1zM1053 351h16v1h-16zM1394 351h1v1h-1zM1048 352h5v1h-5zM1069 352h6v1h-6zM1093 352h14v1h-14zM1389 352h5v1h-5zM1045 353h3v1h-3zM1075 353h2v1h-2zM1087 353h6v1h-6zM1107 353h2v1h-2zM1385 353h4v1h-4zM1043 354h2v1h-2zM1077 354h3v1h-3zM1083 354h4v1h-4zM1109 354h3v1h-3zM1383 354h2v1h-2zM1041 355h2v1h-2zM1080 355h3v1h-3zM1112 355h2v1h-2zM1381 355h2v1h-2zM1040 356h1v1h-1zM1114 356h2v1h-2zM1380 356h1v1h-1zM1039 357h1v1h-1zM1116 357h1v1h-1zM1378 357h2v1h-2zM1038 358h1v1h-1zM1117 358h2v1h-2zM1377 358h1v1h-1zM1037 359h1v1h-1zM1119 359h2v1h-2zM1375 359h2v1h-2zM1036 360h1v1h-1zM1121 360h1v1h-1zM1373 360h2v1h-2zM1035 361h1v1h-1zM1122 361h1v1h-1zM1372 361h1v1h-1zM1034 362h1v1h-1zM1123 362h2v1h-2zM1370 362h2v1h-2zM1033 363h1v1h-1zM1125 363h1v1h-1zM1369 363h1v1h-1zM1031 364h2v1h-2zM1126 364h1v1h-1zM1368 364h1v1h-1zM1030 365h1v1h-1zM1127 365h2v1h-2zM1367 365h1v2h-1zM1029 366h1v1h-1zM1129 366h1v1h-1zM969 367h2v1h-2zM1027 367h2v1h-2zM1130 367h1v1h-1zM1366 367h1v1h-1zM968 368h1v2h-1zM971 368h2v1h-2zM1026 368h1v1h-1zM1131 368h1v1h-1zM1365 368h1v1h-1zM973 369h3v1h-3zM1024 369h2v1h-2zM1132 369h1v1h-1zM1364 369h1v1h-1zM967 370h1v1h-1zM976 370h3v1h-3zM1022 370h2v1h-2zM1133 370h2v1h-2zM1363 370h1v2h-1zM966 371h1v2h-1zM979 371h2v1h-2zM1020 371h2v1h-2zM1135 371h1v1h-1zM981 372h3v1h-3zM1018 372h2v1h-2zM1136 372h1v1h-1zM1362 372h1v1h-1zM965 373h1v1h-1zM984 373h5v1h-5zM1013 373h5v1h-5zM1137 373h1v1h-1zM1361 373h1v1h-1zM964 374h1v2h-1zM989 374h24v1h-24zM1138 374h1v1h-1zM1360 374h1v2h-1zM1139 375h1v1h-1zM963 376h1v1h-1zM1140 376h1v1h-1zM1359 376h1v2h-1zM962 377h1v2h-1zM1141 377h1v1h-1zM1142 378h1v1h-1zM1358 378h1v1h-1zM961 379h1v2h-1zM1143 379h1v1h-1zM1357 379h1v2h-1zM1144 380h1v1h-1zM960 381h1v4h-1zM1145 381h1v1h-1zM1356 381h1v1h-1zM1146 382h1v1h-1zM1355 382h1v2h-1zM1147 383h1v1h-1zM1148 384h1v1h-1zM1354 384h1v2h-1zM959 385h1v4h-1zM1149 385h1v2h-1zM1353 386h1v1h-1zM1150 387h1v1h-1zM1352 387h1v1h-1zM1151 388h1v1h-1zM1351 388h1v2h-1zM958 389h1v4h-1zM1152 389h1v1h-1zM1153 390h1v1h-1zM1350 390h1v1h-1zM1154 391h2v1h-2zM1349 391h1v1h-1zM1156 392h1v1h-1zM1348 392h1v1h-1zM957 393h1v4h-1zM1157 393h2v1h-2zM1347 393h1v2h-1zM1159 394h2v1h-2zM1161 395h1v1h-1zM1346 395h1v1h-1zM1162 396h2v1h-2zM1345 396h1v1h-1zM956 397h1v4h-1zM1164 397h2v1h-2zM1344 397h1v1h-1zM1166 398h2v1h-2zM1343 398h1v1h-1zM1168 399h3v1h-3zM1342 399h1v1h-1zM1171 400h2v1h-2zM1237 400h14v1h-14zM1341 400h1v1h-1zM955 401h1v4h-1zM1173 401h3v1h-3zM1231 401h6v1h-6zM1251 401h2v1h-2zM1340 401h1v1h-1zM1176 402h3v1h-3zM1227 402h4v1h-4zM1253 402h3v1h-3zM1339 402h1v1h-1zM1179 403h2v1h-2zM1223 403h4v1h-4zM1256 403h2v1h-2zM1338 403h1v1h-1zM1181 404h3v1h-3zM1219 404h4v1h-4zM1258 404h1v1h-1zM1337 404h1v1h-1zM954 405h1v4h-1zM1184 405h3v1h-3zM1215 405h4v1h-4zM1259 405h1v1h-1zM1335 405h2v1h-2zM1187 406h2v1h-2zM1211 406h4v1h-4zM1260 406h1v1h-1zM1334 406h1v1h-1zM1189 407h3v1h-3zM1205 407h6v1h-6zM1261 407h2v1h-2zM1333 407h1v1h-1zM1192 408h13v1h-13zM1263 408h1v1h-1zM1331 408h2v1h-2zM953 409h1v4h-1zM1264 409h1v1h-1zM1330 409h1v1h-1zM1265 410h1v1h-1zM1329 410h1v1h-1zM1266 411h1v1h-1zM1327 411h2v1h-2zM1267 412h2v1h-2zM1325 412h2v1h-2zM952 413h1v4h-1zM1269 413h1v1h-1zM1324 413h1v1h-1zM1270 414h1v1h-1zM1322 414h2v1h-2zM1271 415h2v1h-2zM1321 415h1v1h-1zM1273 416h1v1h-1zM1319 416h2v1h-2zM951 417h1v4h-1zM1274 417h2v1h-2zM1317 417h2v1h-2zM1276 418h2v1h-2zM1316 418h1v1h-1zM1278 419h2v1h-2zM1314 419h2v1h-2zM1280 420h2v1h-2zM1313 420h1v1h-1zM950 421h1v4h-1zM1282 421h2v1h-2zM1311 421h2v1h-2zM1284 422h1v1h-1zM1310 422h1v1h-1zM1285 423h2v1h-2zM1309 423h1v1h-1zM1287 424h2v1h-2zM1307 424h2v1h-2zM949 425h1v4h-1zM1289 425h1v1h-1zM1306 425h1v1h-1zM1290 426h2v1h-2zM1304 426h2v1h-2zM1292 427h2v1h-2zM1301 427h3v1h-3zM1294 428h2v1h-2zM1299 428h2v1h-2zM948 429h1v4h-1zM1296 429h3v1h-3zM947 433h1v4h-1zM946 437h1v4h-1zM945 441h1v4h-1zM944 445h1v4h-1zM943 449h1v4h-1zM942 453h1v4h-1zM941 457h1v4h-1zM940 461h1v4h-1zM939 465h1v4h-1zM938 469h1v4h-1zM937 473h1v3h-1zM936 476h1v4h-1zM935 480h1v4h-1zM934 484h1v4h-1zM933 488h1v4h-1zM932 492h1v4h-1zM931 496h1v4h-1zM930 500h1v4h-1zM929 504h1v3h-1zM928 507h1v4h-1zM927 511h1v3h-1zM926 514h1v3h-1zM925 517h1v4h-1zM924 521h1v3h-1zM923 524h1v3h-1zM922 527h1v4h-1zM921 531h1v3h-1zM920 534h1v3h-1zM919 537h1v3h-1zM918 540h1v3h-1zM917 543h1v2h-1zM916 545h1v3h-1zM915 548h1v3h-1zM914 551h1v3h-1zM913 554h1v2h-1zM912 556h1v2h-1zM911 558h1v2h-1zM910 560h1v1h-1zM909 561h1v2h-1zM908 563h1v1h-1zM907 564h1v2h-1zM906 566h1v2h-1zM877 567h24v1h-24zM872 568h5v1h-5zM901 568h5v1h-5zM870 569h2v1h-2zM868 570h2v1h-2zM866 571h2v1h-2zM865 572h1v1h-1zM864 573h1v1h-1zM863 574h1v1h-1zM862 575h1v1h-1zM861 576h1v1h-1zM860 577h1v1h-1zM859 578h1v1h-1zM858 579h1v1h-1zM857 580h1v2h-1zM856 582h1v2h-1zM855 584h1v3h-1zM854 587h1v2h-1zM853 589h1v3h-1zM852 592h1v2h-1zM851 594h1v3h-1zM850 597h1v2h-1zM849 599h1v2h-1z" fill="#3cb371"/>
<rect x="1" y="191" width="1" height="17" fill="#000"/>
<rect x="-1" y="193" width="5" height="7" fill="#000"/>
<rect x="0" y="194" width="3" height="5" fill="#fff"/>
<rect x="9" y="198" width="1" height="2" fill="#000"/>
<rect x="7" y="199" width="5" height="1" fill="#000"/>
<rect x="17" y="190" width="1" height="14" fill="#000"/>
<rect x="15" y="192" width="5" height="8" fill="#000"/>
<rect x="16" y="193" width="3" height="6" fill="#fff"/>
<rect x="25" y="175" width="1" height="20" fill="#000"/>
<rect x="23" y="178" width="5" height="15" fill="#000"/>
<rect x="24" y="179" width="3" height="13" fill="#fff"/>
<rect x="33" y="148" width="1" height="34" fill="#000"/>
<rect x="31" y="151" width="5" height="28" fill="#000"/>
<rect x="32" y="152" width="3" height="26" fill="#fff"/>
<rect x="41" y="137" width="1" height="15" fill="#000"/>
<rect x="39" y="139" width="5" height="12" fill="#000"/>
<rect x="40" y="140" width="3" height="10" fill="#fff"/>
<rect x="49" y="137" width="1" height="17" fill="#000"/>
<rect x="47" y="139" width="5" height="6" fill="#000"/>
<rect x="57" y="143" width="1" height="3" fill="#000"/>
<rect x="55" y="143" width="5" height="3" fill="#000"/>
<rect x="56" y="144" width="3" height="1" fill="#fff"/>
<rect x="65" y="133" width="1" height="12" fill="#000"/>
<rect x="63" y="142" width="5" height="2" fill="#000"/>
<rect x="73" y="125" width="1" height="26" fill="#000"/>
<rect x="71" y="142" width="5" height="5" fill="#000"/>
<rect x="81" y="125" width="1" height="26" fill="#000"/>
<rect x="79" y="129" width="5" height="18" fill="#000"/>
<rect x="80" y="130" width="3" height="16" fill="#fff"/>
<rect x="89" y="96" width="1" height="70" fill="#000"/>
<rect x="87" y="101" width="5" height="29" fill="#000"/>
<rect x="88" y="102" width="3" height="27" fill="#fff"/>
<rect x="97" y="55" width="1" height="49" fill="#000"/>
<rect x="95" y="84" width="5" height="17" fill="#000"/>
<rect x="96" y="85" width="3" height="15" fill="#fff"/>
<rect x="105" y="70" width="1" height="36" fill="#000"/>
<rect x="103" y="84" width="5" height="16" fill="#000"/>
<rect x="113" y="112" width="1" height="9" fill="#000"/>
<rect x="111" y="112" width="5" height="1" fill="#000"/>
<rect x="121" y="100" width="1" height="54" fill="#000"/>
<rect x="119" y="106" width="5" height="42" fill="#000"/>
<rect x="129" y="146" width="1" height="18" fill="#000"/>
<rect x="127" y="147" width="5" height="11" fill="#000"/>
<rect x="137" y="145" width="1" height="36" fill="#000"/>
<rect x="135" y="157" width="5" height="17" fill="#000"/>
<rect x="145" y="158" width="1" height="19" fill="#000"/>
<rect x="143" y="173" width="5" height="2" fill="#000"/>
<rect x="153" y="175" width="1" height="5" fill="#000"/>
<rect x="151" y="176" width="5" height="3" fill="#000"/>
<rect x="152" y="177" width="3" height="1" fill="#fff"/>
<rect x="161" y="169" width="1" height="32" fill="#000"/>
<rect x="159" y="176" width="5" height="16" fill="#000"/>
<rect x="169" y="185" width="1" height="16" fill="#000"/>
<rect x="167" y="191" width="5" height="4" fill="#000"/>
<rect x="177" y="184" width="1" height="2" fill="#000"/>
<rect x="175" y="185" width="5" height="1" fill="#000"/>
<rect x="185" y="173" width="1" height="15" fill="#000"/>
<rect x="183" y="177" width="5" height="9" fill="#000"/>
<rect x="184" y="178" width="3" height="7" fill="#fff"/>
<rect x="193" y="149" width="1" height="37" fill="#000"/>
<rect x="191" y="154" width="5" height="24" fill="#000"/>
<rect x="192" y="155" width="3" height="22" fill="#fff"/>
<rect x="201" y="153" width="1" height="9" fill="#000"/>
<rect x="199" y="155" width="5" height="7" fill="#000"/>
<rect x="200" y="156" width="3" height="5" fill="#fff"/>
<rect x="209" y="141" width="1" height="16" fill="#000"/>
<rect x="207" y="150" width="5" height="6" fill="#000"/>
<rect x="208" y="151" width="3" height="4" fill="#fff"/>
<rect x="217" y="108" width="1" height="44" fill="#000"/>
<rect x="215" y="117" width="5" height="34" fill="#000"/>
<rect x="216" y="118" width="3" height="32" fill="#fff"/>
<rect x="225" y="113" width="1" height="6" fill="#000"/>
<rect x="223" y="116" width="5" height="2" fill="#000"/>
<rect x="233" y="112" width="1" height="38" fill="#000"/>
<rect x="231" y="116" width="5" height="26" fill="#000"/>
<rect x="241" y="138" width="1" height="27" fill="#000"/>
<rect x="239" y="142" width="5" height="17" fill="#000"/>
<rect x="249" y="156" width="1" height="7" fill="#000"/>
<rect x="247" y="158" width="5" height="4" fill="#000"/>
<rect x="248" y="159" width="3" height="2" fill="#fff"/>
<rect x="257" y="134" width="1" height="29" fill="#000"/>
<rect x="255" y="135" width="5" height="24" fill="#000"/>
<rect x="256" y="136" width="3" height="22" fill="#fff"/>
<rect x="265" y="125" width="1" height="30" fill="#000"/>
<rect x="263" y="135" width="5" height="15" fill="#000"/>
<rect x="273" y="136" width="1" height="23" fill="#000"/>
<rect x="271" y="149" width="5" height="3" fill="#000"/>
<rect x="281" y="147" width="1" height="28" fill="#000"/>
<rect x="279" y="152" width="5" height="9" fill="#000"/>
<rect x="289" y="154" width="1" height="14" fill="#000"/>
<rect x="287" y="160" width="5" height="3" fill="#000"/>
<rect x="297" y="166" width="1" height="4" fill="#000"/>
<rect x="295" y="167" width="5" height="3" fill="#000"/>
<rect x="296" y="168" width="3" height="1" fill="#fff"/>
<rect x="305" y="166" width="1" height="22" fill="#000"/>
<rect x="303" y="167" width="5" height="15" fill="#000"/>
<rect x="313" y="169" width="1" height="20" fill="#000"/>
<rect x="311" y="172" width="5" height="10" fill="#000"/>
<rect x="312" y="173" width="3" height="8" fill="#fff"/>
<rect x="321" y="166" width="1" height="16" fill="#000"/>
<rect x="319" y="168" width="5" height="5" fill="#000"/>
<rect x="320" y="169" width="3" height="3" fill="#fff"/>
<rect x="329" y="157" width="1" height="15" fill="#000"/>
<rect x="327" y="159" width="5" height="9" fill="#000"/>
<rect x="328" y="160" width="3" height="7" fill="#fff"/>
<rect x="337" y="148" width="1" height="27" fill="#000"/>
<rect x="335" y="159" width="5" height="15" fill="#000"/>
<rect x="345" y="175" width="1" height="3" fill="#000"/>
<rect x="343" y="176" width="5" height="2" fill="#000"/>
<rect x="353" y="174" width="1" height="13" fill="#000"/>
<rect x="351" y="176" width="5" height="1" fill="#000"/>
<rect x="361" y="157" width="1" height="22" fill="#000"/>
<rect x="359" y="166" width="5" height="11" fill="#000"/>
<rect x="360" y="167" width="3" height="9" fill="#fff"/>
<rect x="369" y="140" width="1" height="30" fill="#000"/>
<rect x="367" y="142" width="5" height="25" fill="#000"/>
<rect x="368" y="143" width="3" height="23" fill="#fff"/>
<rect x="377" y="140" width="1" height="15" fill="#000"/>
<rect x="375" y="142" width="5" height="7" fill="#000"/>
<rect x="385" y="135" width="1" height="29" fill="#000"/>
<rect x="383" y="148" width="5" height="11" fill="#000"/>
<rect x="393" y="159" width="1" height="4" fill="#000"/>
<rect x="391" y="159" width="5" height="4" fill="#000"/>
<rect x="401" y="152" width="1" height="16" fill="#000"/>
<rect x="399" y="162" width="5" height="2" fill="#000"/>
<rect x="409" y="161" width="1" height="23" fill="#000"/>
<rect x="407" y="162" width="5" height="11" fill="#000"/>
<rect x="417" y="170" width="1" height="11" fill="#000"/>
<rect x="415" y="171" width="5" height="2" fill="#000"/>
<rect x="425" y="150" width="1" height="34" fill="#000"/>
<rect x="423" y="156" width="5" height="17" fill="#000"/>
<rect x="424" y="157" width="3" height="15" fill="#fff"/>
<rect x="433" y="128" width="1" height="30" fill="#000"/>
<rect x="431" y="128" width="5" height="29" fill="#000"/>
<rect x="432" y="129" width="3" height="27" fill="#fff"/>
<rect x="441" y="132" width="1" height="3" fill="#000"/>
<rect x="439" y="133" width="5" height="2" fill="#000"/>
<rect x="449" y="133" width="1" height="49" fill="#000"/>
<rect x="447" y="133" width="5" height="46" fill="#000"/>
<rect x="457" y="166" width="1" height="27" fill="#000"/>
<rect x="455" y="170" width="5" height="9" fill="#000"/>
<rect x="456" y="171" width="3" height="7" fill="#fff"/>
<rect x="465" y="160" width="1" height="29" fill="#000"/>
<rect x="463" y="170" width="5" height="9" fill="#000"/>
<rect x="473" y="178" width="1" height="19" fill="#000"/>
<rect x="471" y="178" width="5" height="17" fill="#000"/>
<rect x="481" y="187" width="1" height="19" fill="#000"/>
<rect x="479" y="194" width="5" height="12" fill="#000"/>
<rect x="489" y="204" width="1" height="2" fill="#000"/>
<rect x="487" y="204" width="5" height="2" fill="#000"/>
<rect x="497" y="190" width="1" height="19" fill="#000"/>
<rect x="495" y="198" width="5" height="7" fill="#000"/>
<rect x="496" y="199" width="3" height="5" fill="#fff"/>
<rect x="505" y="185" width="1" height="19" fill="#000"/>
<rect x="503" y="188" width="5" height="11" fill="#000"/>
<rect x="504" y="189" width="3" height="9" fill="#fff"/>
<rect x="513" y="179" width="1" height="11" fill="#000"/>
<rect x="511" y="188" width="5" height="1" fill="#000"/>
<rect x="521" y="160" width="1" height="32" fill="#000"/>
<rect x="519" y="166" width="5" height="23" fill="#000"/>
<rect x="520" y="167" width="3" height="21" fill="#fff"/>
<rect x="529" y="162" width="1" height="16" fill="#000"/>
<rect x="527" y="166" width="5" height="4" fill="#000"/>
<rect x="537" y="164" width="1" height="4" fill="#000"/>
<rect x="535" y="165" width="5" height="2" fill="#000"/>
<rect x="545" y="165" width="1" height="14" fill="#000"/>
<rect x="543" y="165" width="5" height="12" fill="#000"/>
<rect x="553" y="165" width="1" height="20" fill="#000"/>
<rect x="551" y="176" width="5" height="2" fill="#000"/>
<rect x="561" y="171" width="1" height="30" fill="#000"/>
<rect x="559" y="177" width="5" height="19" fill="#000"/>
<rect x="569" y="195" width="1" height="20" fill="#000"/>
<rect x="567" y="195" width="5" height="12" fill="#000"/>
<rect x="577" y="182" width="1" height="26" fill="#000"/>
<rect x="575" y="184" width="5" height="23" fill="#000"/>
<rect x="576" y="185" width="3" height="21" fill="#fff"/>
<rect x="585" y="189" width="1" height="2" fill="#000"/>
<rect x="583" y="189" width="5" height="2" fill="#000"/>
<rect x="593" y="188" width="1" height="18" fill="#000"/>
<rect x="591" y="189" width="5" height="8" fill="#000"/>
<rect x="601" y="173" width="1" height="26" fill="#000"/>
<rect x="599" y="177" width="5" height="20" fill="#000"/>
<rect x="600" y="178" width="3" height="18" fill="#fff"/>
<rect x="609" y="175" width="1" height="29" fill="#000"/>
<rect x="607" y="177" width="5" height="24" fill="#000"/>
<rect x="617" y="190" width="1" height="22" fill="#000"/>
<rect x="615" y="200" width="5" height="6" fill="#000"/>
<rect x="625" y="197" width="1" height="48" fill="#000"/>
<rect x="623" y="205" width="5" height="24" fill="#000"/>
<rect x="633" y="224" width="1" height="5" fill="#000"/>
<rect x="631" y="225" width="5" height="2" fill="#000"/>
<rect x="641" y="214" width="1" height="28" fill="#000"/>
<rect x="639" y="225" width="5" height="10" fill="#000"/>
<rect x="649" y="215" width="1" height="22" fill="#000"/>
<rect x="647" y="221" width="5" height="14" fill="#000"/>
<rect x="648" y="222" width="3" height="12" fill="#fff"/>
<rect x="657" y="208" width="1" height="26" fill="#000"/>
<rect x="655" y="209" width="5" height="13" fill="#000"/>
<rect x="656" y="210" width="3" height="11" fill="#fff"/>
<rect x="665" y="185" width="1" height="27" fill="#000"/>
<rect x="663" y="190" width="5" height="20" fill="#000"/>
<rect x="664" y="191" width="3" height="18" fill="#fff"/>
<rect x="673" y="165" width="1" height="26" fill="#000"/>
<rect x="671" y="174" width="5" height="17" fill="#000"/>
<rect x="672" y="175" width="3" height="15" fill="#fff"/>
<rect x="681" y="151" width="1" height="8" fill="#000"/>
<rect x="679" y="154" width="5" height="3" fill="#000"/>
<rect x="680" y="155" width="3" height="1" fill="#fff"/>
<rect x="689" y="128" width="1" height="42" fill="#000"/>
<rect x="687" y="154" width="5" height="7" fill="#000"/>
<rect x="697" y="156" width="1" height="52" fill="#000"/>
<rect x="695" y="159" width="5" height="42" fill="#000"/>
<rect x="705" y="183" width="1" height="43" fill="#000"/>
<rect x="703" y="200" width="5" height="23" fill="#000"/>
<rect x="713" y="214" width="1" height="89" fill="#000"/>
<rect x="711" y="222" width="5" height="61" fill="#000"/>
<rect x="721" y="269" width="1" height="86" fill="#000"/>
<rect x="719" y="282" width="5" height="67" fill="#000"/>
<rect x="729" y="319" width="1" height="8" fill="#000"/>
<rect x="727" y="324" width="5" height="1" fill="#000"/>
<rect x="737" y="324" width="1" height="49" fill="#000"/>
<rect x="735" y="325" width="5" height="33" fill="#000"/>
<rect x="745" y="355" width="1" height="67" fill="#000"/>
<rect x="743" y="357" width="5" height="37" fill="#000"/>
<rect x="753" y="390" width="1" height="167" fill="#000"/>
<rect x="751" y="393" width="5" height="125" fill="#000"/>
<rect x="761" y="472" width="1" height="95" fill="#000"/>
<rect x="759" y="517" width="5" height="30" fill="#000"/>
<rect x="769" y="438" width="1" height="112" fill="#000"/>
<rect x="767" y="527" width="5" height="20" fill="#000"/>
<rect x="768" y="528" width="3" height="18" fill="#fff"/>
<rect x="777" y="506" width="1" height="31" fill="#000"/>
<rect x="775" y="515" width="5" height="19" fill="#000"/>
<rect x="776" y="516" width="3" height="17" fill="#fff"/>
<rect x="785" y="491" width="1" height="66" fill="#000"/>
<rect x="783" y="515" width="5" height="7" fill="#000"/>
<rect x="793" y="471" width="1" height="54" fill="#000"/>
<rect x="791" y="473" width="5" height="49" fill="#000"/>
<rect x="792" y="474" width="3" height="47" fill="#fff"/>
<rect x="801" y="428" width="1" height="83" fill="#000"/>
<rect x="799" y="458" width="5" height="16" fill="#000"/>
<rect x="800" y="459" width="3" height="14" fill="#fff"/>
<rect x="809" y="366" width="1" height="101" fill="#000"/>
<rect x="807" y="375" width="5" height="85" fill="#000"/>
<rect x="808" y="376" width="3" height="83" fill="#fff"/>
<rect x="817" y="303" width="1" height="84" fill="#000"/>
<rect x="815" y="304" width="5" height="72" fill="#000"/>
<rect x="816" y="305" width="3" height="70" fill="#fff"/>
<rect x="825" y="310" width="1" height="15" fill="#000"/>
<rect x="823" y="312" width="5" height="13" fill="#000"/>
<rect x="824" y="313" width="3" height="11" fill="#fff"/>
<rect x="833" y="308" width="1" height="37" fill="#000"/>
<rect x="831" y="312" width="5" height="21" fill="#000"/>
<rect x="841" y="306" width="1" height="56" fill="#000"/>
<rect x="839" y="323" width="5" height="10" fill="#000"/>
<rect x="840" y="324" width="3" height="8" fill="#fff"/>
<rect x="849" y="314" width="1" height="28" fill="#000"/>
<rect x="847" y="322" width="5" height="8" fill="#000"/>
<rect x="857" y="306" width="1" height="31" fill="#000"/>
<rect x="855" y="326" width="5" height="3" fill="#000"/>
<rect x="856" y="327" width="3" height="1" fill="#fff"/>
<rect x="865" y="325" width="1" height="47" fill="#000"/>
<rect x="863" y="326" width="5" height="30" fill="#000"/>
<rect x="873" y="362" width="1" height="9" fill="#000"/>
<rect x="871" y="363" width="5" height="6" fill="#000"/>
<rect x="881" y="342" width="1" height="41" fill="#000"/>
<rect x="879" y="365" width="5" height="4" fill="#000"/>
<rect x="880" y="366" width="3" height="2" fill="#fff"/>
<rect x="889" y="328" width="1" height="41" fill="#000"/>
<rect x="887" y="339" width="5" height="27" fill="#000"/>
<rect x="888" y="340" width="3" height="25" fill="#fff"/>
<rect x="897" y="319" width="1" height="33" fill="#000"/>
<rect x="895" y="326" width="5" height="14" fill="#000"/>
<rect x="896" y="327" width="3" height="12" fill="#fff"/>
<rect x="905" y="303" width="1" height="31" fill="#000"/>
<rect x="903" y="311" width="5" height="16" fill="#000"/>
<rect x="904" y="312" width="3" height="14" fill="#fff"/>
<rect x="913" y="306" width="1" height="5" fill="#000"/>
<rect x="911" y="306" width="5" height="4" fill="#000"/>
<rect x="921" y="291" width="1" height="21" fill="#000"/>
<rect x="919" y="294" width="5" height="16" fill="#000"/>
<rect x="920" y="295" width="3" height="14" fill="#fff"/>
<rect x="929" y="263" width="1" height="35" fill="#000"/>
<rect x="927" y="269" width="5" height="27" fill="#000"/>
<rect x="928" y="270" width="3" height="25" fill="#fff"/>
<rect x="937" y="269" width="1" height="47" fill="#000"/>
<rect x="935" y="269" width="5" height="27" fill="#000"/>
<rect x="945" y="293" width="1" height="30" fill="#000"/>
<rect x="943" y="295" width="5" height="8" fill="#000"/>
<rect x="953" y="294" width="1" height="29" fill="#000"/>
<rect x="951" y="302" width="5" height="1" fill="#000"/>
<rect x="961" y="301" width="1" height="3" fill="#000"/>
<rect x="959" y="301" width="5" height="3" fill="#000"/>
<rect x="969" y="301" width="1" height="20" fill="#000"/>
<rect x="967" y="303" width="5" height="12" fill="#000"/>
<rect x="977" y="314" width="1" height="48" fill="#000"/>
<rect x="975" y="314" width="5" height="35" fill="#000"/>
<rect x="985" y="327" width="1" height="28" fill="#000"/>
<rect x="983" y="343" width="5" height="6" fill="#000"/>
<rect x="984" y="344" width="3" height="4" fill="#fff"/>
<rect x="993" y="320" width="1" height="27" fill="#000"/>
<rect x="991" y="336" width="5" height="8" fill="#000"/>
<rect x="992" y="337" width="3" height="6" fill="#fff"/>
<rect x="1001" y="329" width="1" height="21" fill="#000"/>
<rect x="999" y="336" width="5" height="1" fill="#000"/>
<rect x="1009" y="331" width="1" height="3" fill="#000"/>
<rect x="1007" y="332" width="5" height="1" fill="#000"/>
<rect x="1017" y="310" width="1" height="25" fill="#000"/>
<rect x="1015" y="319" width="5" height="14" fill="#000"/>
<rect x="1016" y="320" width="3" height="12" fill="#fff"/>
<rect x="1025" y="295" width="1" height="29" fill="#000"/>
<rect x="1023" y="315" width="5" height="5" fill="#000"/>
<rect x="1024" y="316" width="3" height="3" fill="#fff"/>
<rect x="1033" y="303" width="1" height="24" fill="#000"/>
<rect x="1031" y="307" width="5" height="10" fill="#000"/>
<rect x="1032" y="308" width="3" height="8" fill="#fff"/>
<rect x="1041" y="264" width="1" height="54" fill="#000"/>
<rect x="1039" y="280" width="5" height="28" fill="#000"/>
<rect x="1040" y="281" width="3" height="26" fill="#fff"/>
<rect x="1049" y="279" width="1" height="25" fill="#000"/>
<rect x="1047" y="280" width="5" height="24" fill="#000"/>
<rect x="1057" y="309" width="1" height="4" fill="#000"/>
<rect x="1055" y="310" width="5" height="1" fill="#000"/>
<rect x="1065" y="305" width="1" height="18" fill="#000"/>
<rect x="1063" y="310" width="5" height="4" fill="#000"/>
<rect x="1073" y="303" width="1" height="17" fill="#000"/>
<rect x="1071" y="313" width="5" height="1" fill="#000"/>
<rect x="1081" y="311" width="1" height="33" fill="#000"/>
<rect x="1079" y="313" width="5" height="30" fill="#000"/>
<rect x="1089" y="319" width="1" height="38" fill="#000"/>
<rect x="1087" y="330" width="5" height="13" fill="#000"/>
<rect x="1088" y="331" width="3" height="11" fill="#fff"/>
<rect x="1097" y="307" width="1" height="28" fill="#000"/>
<rect x="1095" y="321" width="5" height="10" fill="#000"/>
<rect x="1096" y="322" width="3" height="8" fill="#fff"/>
<rect x="1105" y="320" width="1" height="5" fill="#000"/>
<rect x="1103" y="320" width="5" height="3" fill="#000"/>
<rect x="1104" y="321" width="3" height="1" fill="#fff"/>
<rect x="1113" y="315" width="1" height="38" fill="#000"/>
<rect x="1111" y="320" width="5" height="21" fill="#000"/>
<rect x="1121" y="329" width="1" height="32" fill="#000"/>
<rect x="1119" y="340" width="5" height="21" fill="#000"/>
<rect x="1129" y="338" width="1" height="33" fill="#000"/>
<rect x="1127" y="360" width="5" height="4" fill="#000"/>
<rect x="1137" y="363" width="1" height="19" fill="#000"/>
<rect x="1135" y="363" width="5" height="2" fill="#000"/>
<rect x="1145" y="363" width="1" height="32" fill="#000"/>
<rect x="1143" y="364" width="5" height="30" fill="#000"/>
<rect x="1153" y="398" width="1" height="5" fill="#000"/>
<rect x="1151" y="399" width="5" height="3" fill="#000"/>
<rect x="1161" y="366" width="1" height="36" fill="#000"/>
<rect x="1159" y="373" width="5" height="28" fill="#000"/>
<rect x="1160" y="374" width="3" height="26" fill="#fff"/>
<rect x="1169" y="349" width="1" height="29" fill="#000"/>
<rect x="1167" y="359" width="5" height="15" fill="#000"/>
<rect x="1168" y="360" width="3" height="13" fill="#fff"/>
<rect x="1177" y="351" width="1" height="17" fill="#000"/>
<rect x="1175" y="359" width="5" height="6" fill="#000"/>
<rect x="1185" y="360" width="1" height="17" fill="#000"/>
<rect x="1183" y="364" width="5" height="3" fill="#000"/>
<rect x="1193" y="364" width="1" height="19" fill="#000"/>
<rect x="1191" y="367" width="5" height="13" fill="#000"/>
<rect x="1201" y="376" width="1" height="2" fill="#000"/>
<rect x="1199" y="376" width="5" height="1" fill="#000"/>
<rect x="1209" y="372" width="1" height="10" fill="#000"/>
<rect x="1207" y="372" width="5" height="5" fill="#000"/>
<rect x="1208" y="373" width="3" height="3" fill="#fff"/>
<rect x="1217" y="336" width="1" height="38" fill="#000"/>
<rect x="1215" y="341" width="5" height="32" fill="#000"/>
<rect x="1216" y="342" width="3" height="30" fill="#fff"/>
<rect x="1225" y="335" width="1" height="37" fill="#000"/>
<rect x="1223" y="340" width="5" height="18" fill="#000"/>
<rect x="1233" y="337" width="1" height="28" fill="#000"/>
<rect x="1231" y="344" width="5" height="14" fill="#000"/>
<rect x="1232" y="345" width="3" height="12" fill="#fff"/>
<rect x="1241" y="325" width="1" height="26" fill="#000"/>
<rect x="1239" y="342" width="5" height="3" fill="#000"/>
<rect x="1240" y="343" width="3" height="1" fill="#fff"/>
<rect x="1249" y="336" width="1" height="3" fill="#000"/>
<rect x="1247" y="337" width="5" height="1" fill="#000"/>
<rect x="1257" y="298" width="1" height="41" fill="#000"/>
<rect x="1255" y="303" width="5" height="35" fill="#000"/>
<rect x="1256" y="304" width="3" height="33" fill="#fff"/>
<rect x="1265" y="279" width="1" height="27" fill="#000"/>
<rect x="1263" y="280" width="5" height="24" fill="#000"/>
<rect x="1264" y="281" width="3" height="22" fill="#fff"/>
<rect x="1273" y="271" width="1" height="16" fill="#000"/>
<rect x="1271" y="280" width="5" height="1" fill="#000"/>
<rect x="1281" y="271" width="1" height="29" fill="#000"/>
<rect x="1279" y="274" width="5" height="8" fill="#000"/>
<rect x="1280" y="275" width="3" height="6" fill="#fff"/>
<rect x="1289" y="243" width="1" height="37" fill="#000"/>
<rect x="1287" y="258" width="5" height="17" fill="#000"/>
<rect x="1288" y="259" width="3" height="15" fill="#fff"/>
<rect x="1297" y="244" width="1" height="8" fill="#000"/>
<rect x="1295" y="246" width="5" height="6" fill="#000"/>
<rect x="1296" y="247" width="3" height="4" fill="#fff"/>
<rect x="1305" y="241" width="1" height="28" fill="#000"/>
<rect x="1303" y="242" width="5" height="5" fill="#000"/>
<rect x="1304" y="243" width="3" height="3" fill="#fff"/>
<rect x="1313" y="241" width="1" height="30" fill="#000"/>
<rect x="1311" y="242" width="5" height="7" fill="#000"/>
<rect x="1321" y="223" width="1" height="27" fill="#000"/>
<rect x="1319" y="248" width="5" height="1" fill="#000"/>
<rect x="1329" y="238" width="1" height="45" fill="#000"/>
<rect x="1327" y="248" width="5" height="34" fill="#000"/>
<rect x="1337" y="262" width="1" height="45" fill="#000"/>
<rect x="1335" y="281" width="5" height="22" fill="#000"/>
<rect x="1345" y="290" width="1" height="6" fill="#000"/>
<rect x="1343" y="291" width="5" height="5" fill="#000"/>
<rect x="1353" y="256" width="1" height="55" fill="#000"/>
<rect x="1351" y="266" width="5" height="32" fill="#000"/>
<rect x="1352" y="267" width="3" height="30" fill="#fff"/>
<rect x="1361" y="254" width="1" height="33" fill="#000"/>
<rect x="1359" y="265" width="5" height="15" fill="#000"/>
<rect x="1369" y="278" width="1" height="20" fill="#000"/>
<rect x="1367" y="279" width="5" height="9" fill="#000"/>
<rect x="1377" y="284" width="1" height="40" fill="#000"/>
<rect x="1375" y="287" width="5" height="32" fill="#000"/>
<rect x="1385" y="310" width="1" height="28" fill="#000"/>
<rect x="1383" y="318" width="5" height="18" fill="#000"/>
<rect x="1393" y="336" width="1" height="3" fill="#000"/>
<rect x="1391" y="337" width="5" height="1" fill="#000"/>
<rect x="1401" y="298" width="1" height="42" fill="#000"/>
<rect x="1399" y="299" width="5" height="39" fill="#000"/>
<rect x="1400" y="300" width="3" height="37" fill="#fff"/>
<rect x="1409" y="289" width="1" height="23" fill="#000"/>
<rect x="1407" y="291" width="5" height="9" fill="#000"/>
<rect x="1417" y="289" width="1" height="32" fill="#000"/>
<rect x="1415" y="293" width="5" height="28" fill="#000"/>
</g>
<g clip-path="url(#cm)" shape-rendering="crispEdges">
<rect x="1257" y="312" width="200" height="5" fill="#00ff00"/>
<line x1="1157.7" y1="393.7" x2="1315.5" y2="235.2" stroke="#ff0000" stroke-width="2.9"/>
<polygon points="1322.2,228.5 1317.5,240.0 1310.7,233.3" fill="#ff0000"/>
<line x1="1322.2" y1="228.5" x2="1345.7" y2="294.3" stroke="#ff0000" stroke-width="3.2"/>
<polygon points="1348.9,303.2 1340.5,294.0 1349.5,290.8" fill="#ff0000"/>
<line x1="1348.6" y1="303.2" x2="1351.0" y2="265.9" stroke="#ff0000" stroke-width="3.2"/>
<polygon points="1351.6,256.4 1355.7,268.2 1346.1,267.6" fill="#ff0000"/>
<line x1="1352.3" y1="256.6" x2="1383.7" y2="321.6" stroke="#ff0000" stroke-width="3.2"/>
<polygon points="1387.8,330.2 1378.5,321.9 1387.1,317.8" fill="#ff0000"/>
<line x1="1391.8" y1="329.7" x2="1406.1" y2="298.3" stroke="#ff0000" stroke-width="3.2"/>
<polygon points="1410.0,289.7 1409.6,302.2 1400.9,298.2" fill="#ff0000"/>
<line x1="1410.0" y1="289.7" x2="1433.9" y2="316.0" stroke="#ff0000" stroke-width="3.2"/>
<polygon points="1440.3,323.0 1429.0,317.7 1436.1,311.3" fill="#ff0000"/>
</g>
<g shape-rendering="crispEdges"><rect x="1482" y="313" width="10" height="1" fill="#ff0000"/><rect x="1492.5" y="301.5" width="73" height="24" fill="#fff" stroke="#ff0000" stroke-width="1"/></g>
<text x="1493.9" y="321.9" font-size="22.6" fill="#ff0000" stroke="#ff0000" stroke-width="0.35" textLength="69.6" lengthAdjust="spacingAndGlyphs">1.24431</text>
<text x="1490" y="365.3" font-size="20" font-weight="600" fill="#00ff00" stroke="#00ff00" stroke-width="0.3" style="font-family:'Liberation Serif','Noto Serif CJK SC',serif;letter-spacing:2.9px">多空转折点</text>
<g shape-rendering="crispEdges" fill="#000">
<rect x="0" y="26" width="1685" height="1"/>
<rect x="1684" y="26" width="1" height="902"/>
<rect x="0" y="579" width="1685" height="1"/><rect x="0" y="581" width="1685" height="1"/>
<rect x="0" y="751" width="1685" height="1"/><rect x="0" y="753" width="1685" height="1"/>
<rect x="0" y="927" width="1685" height="1"/>
<rect x="1684" y="580" width="1" height="1" fill="#fff"/><rect x="1684" y="752" width="1" height="1" fill="#fff"/>
<rect x="1729" y="24" width="1" height="922" fill="#e3e3e3"/><rect x="1730" y="24" width="1" height="922" fill="#f0f0f0"/>
</g>
<polygon points="1425,27 1435,27 1430,32" fill="#c0c0c0"/>
<g shape-rendering="crispEdges" fill="#000">
<rect x="1685" y="48" width="2" height="1"/>
<rect x="1685" y="81" width="2" height="1"/>
<rect x="1685" y="114" width="2" height="1"/>
<rect x="1685" y="147" width="2" height="1"/>
<rect x="1685" y="180" width="2" height="1"/>
<rect x="1685" y="213" width="2" height="1"/>
<rect x="1685" y="246" width="2" height="1"/>
<rect x="1685" y="279" width="2" height="1"/>
<rect x="1685" y="312" width="2" height="1"/>
<rect x="1685" y="345" width="2" height="1"/>
<rect x="1685" y="378" width="2" height="1"/>
<rect x="1685" y="411" width="2" height="1"/>
<rect x="1685" y="444" width="2" height="1"/>
<rect x="1685" y="477" width="2" height="1"/>
<rect x="1685" y="510" width="2" height="1"/>
<rect x="1685" y="543" width="2" height="1"/>
<rect x="1685" y="576" width="2" height="1"/>
<rect x="1685" y="582" width="2" height="1"/><rect x="1685" y="629" width="2" height="1"/><rect x="1685" y="750" width="2" height="1"/>
<rect x="1685" y="754" width="2" height="1"/><rect x="1685" y="926" width="2" height="1"/>
</g>
<text x="1690" y="51.6" font-size="9" class="ct" fill="#000" stroke="#000" textLength="32.3" lengthAdjust="spacingAndGlyphs">1.35280</text>
<text x="1690" y="84.6" font-size="9" class="ct" fill="#000" stroke="#000" textLength="32.3" lengthAdjust="spacingAndGlyphs">1.33920</text>
<text x="1690" y="117.6" font-size="9" class="ct" fill="#000" stroke="#000" textLength="32.3" lengthAdjust="spacingAndGlyphs">1.32560</text>
<text x="1690" y="150.6" font-size="9" class="ct" fill="#000" stroke="#000" textLength="32.3" lengthAdjust="spacingAndGlyphs">1.31240</text>
<text x="1690" y="183.6" font-size="9" class="ct" fill="#000" stroke="#000" textLength="32.3" lengthAdjust="spacingAndGlyphs">1.29880</text>
<text x="1690" y="216.6" font-size="9" class="ct" fill="#000" stroke="#000" textLength="32.3" lengthAdjust="spacingAndGlyphs">1.28520</text>
<text x="1690" y="249.6" font-size="9" class="ct" fill="#000" stroke="#000" textLength="32.3" lengthAdjust="spacingAndGlyphs">1.27160</text>
<text x="1690" y="282.6" font-size="9" class="ct" fill="#000" stroke="#000" textLength="32.3" lengthAdjust="spacingAndGlyphs">1.25840</text>
<text x="1690" y="414.6" font-size="9" class="ct" fill="#000" stroke="#000" textLength="32.3" lengthAdjust="spacingAndGlyphs">1.20400</text>
<text x="1690" y="447.6" font-size="9" class="ct" fill="#000" stroke="#000" textLength="32.3" lengthAdjust="spacingAndGlyphs">1.19080</text>
<text x="1690" y="480.6" font-size="9" class="ct" fill="#000" stroke="#000" textLength="32.3" lengthAdjust="spacingAndGlyphs">1.17720</text>
<text x="1690" y="513.6" font-size="9" class="ct" fill="#000" stroke="#000" textLength="32.3" lengthAdjust="spacingAndGlyphs">1.16360</text>
<text x="1690" y="546.6" font-size="9" class="ct" fill="#000" stroke="#000" textLength="32.3" lengthAdjust="spacingAndGlyphs">1.15000</text>
<text x="1690" y="579.6" font-size="9" class="ct" fill="#000" stroke="#000" textLength="32.3" lengthAdjust="spacingAndGlyphs">1.13680</text>
<text x="1688" y="592.1" font-size="9" class="ct" fill="#000" stroke="#000" textLength="27.3" lengthAdjust="spacingAndGlyphs">0.0148</text>
<text x="1688" y="632.6" font-size="9" class="ct" fill="#000" stroke="#000" textLength="17.4" lengthAdjust="spacingAndGlyphs">0.00</text>
<text x="1688" y="748.1" font-size="9" class="ct" fill="#000" stroke="#000" textLength="40.5" lengthAdjust="spacingAndGlyphs">-0.038415</text>
<text x="1688" y="764.1" font-size="9" class="ct" fill="#000" stroke="#000" textLength="14.9" lengthAdjust="spacingAndGlyphs">100</text>
<text x="1687" y="792.6" font-size="9" class="ct" fill="#000" stroke="#000" textLength="9.9" lengthAdjust="spacingAndGlyphs">80</text>
<text x="1687" y="843.6" font-size="9" class="ct" fill="#000" stroke="#000" textLength="9.9" lengthAdjust="spacingAndGlyphs">50</text>
<text x="1687" y="904.6" font-size="9" class="ct" fill="#000" stroke="#000" textLength="9.9" lengthAdjust="spacingAndGlyphs">15</text>
<text x="1688" y="924.1" font-size="9" class="ct" fill="#000" stroke="#000" textLength="5.0" lengthAdjust="spacingAndGlyphs">0</text>
<rect x="1686" y="315" width="41" height="11" fill="#000" shape-rendering="crispEdges"/>
<text x="1690" y="324.1" font-size="9" class="ct" fill="#fff" stroke="#fff" textLength="32.3" lengthAdjust="spacingAndGlyphs">1.24164</text>
<rect x="1686" y="261" width="41" height="11" fill="#ff0000" shape-rendering="crispEdges"/>
<text x="1690" y="270.1" font-size="9" class="ct" fill="#fff" stroke="#fff" textLength="32.3" lengthAdjust="spacingAndGlyphs">1.26311</text>
<rect x="1679.5" y="265.5" width="4" height="4" fill="#fff" stroke="#ff0000" stroke-width="1" shape-rendering="crispEdges"/>
<rect x="1686" y="284" width="41" height="11" fill="#ff4500" shape-rendering="crispEdges"/>
<text x="1690" y="293.1" font-size="9" class="ct" fill="#fff" stroke="#fff" textLength="32.3" lengthAdjust="spacingAndGlyphs">1.25371</text>
<rect x="1679.5" y="288.5" width="4" height="4" fill="#fff" stroke="#ff4500" stroke-width="1" shape-rendering="crispEdges"/>
<rect x="1686" y="307" width="41" height="11" fill="#32cd32" shape-rendering="crispEdges"/>
<text x="1690" y="316.1" font-size="9" class="ct" fill="#fff" stroke="#fff" textLength="32.3" lengthAdjust="spacingAndGlyphs">1.24431</text>
<rect x="1686" y="342" width="41" height="11" fill="#0000ff" shape-rendering="crispEdges"/>
<text x="1690" y="351.1" font-size="9" class="ct" fill="#fff" stroke="#fff" textLength="32.3" lengthAdjust="spacingAndGlyphs">1.23001</text>
<rect x="1679.5" y="346.5" width="4" height="4" fill="#fff" stroke="#0000ff" stroke-width="1" shape-rendering="crispEdges"/>
<rect x="1686" y="372" width="41" height="11" fill="#0000ff" shape-rendering="crispEdges"/>
<text x="1690" y="381.1" font-size="9" class="ct" fill="#fff" stroke="#fff" textLength="32.3" lengthAdjust="spacingAndGlyphs">1.21775</text>
<rect x="1679.5" y="376.5" width="4" height="4" fill="#fff" stroke="#0000ff" stroke-width="1" shape-rendering="crispEdges"/>
<g clip-path="url(#c2)" shape-rendering="crispEdges">
<rect x="1" y="620" width="1" height="10" fill="#c0c0c0"/>
<rect x="9" y="621" width="1" height="9" fill="#c0c0c0"/>
<rect x="17" y="620" width="1" height="10" fill="#c0c0c0"/>
<rect x="25" y="619" width="1" height="11" fill="#c0c0c0"/>
<rect x="33" y="615" width="1" height="15" fill="#c0c0c0"/>
<rect x="41" y="611" width="1" height="19" fill="#c0c0c0"/>
<rect x="49" y="608" width="1" height="22" fill="#c0c0c0"/>
<rect x="57" y="607" width="1" height="23" fill="#c0c0c0"/>
<rect x="65" y="605" width="1" height="25" fill="#c0c0c0"/>
<rect x="73" y="605" width="1" height="25" fill="#c0c0c0"/>
<rect x="81" y="603" width="1" height="27" fill="#c0c0c0"/>
<rect x="89" y="595" width="1" height="35" fill="#c0c0c0"/>
<rect x="97" y="591" width="1" height="39" fill="#c0c0c0"/>
<rect x="105" y="591" width="1" height="39" fill="#c0c0c0"/>
<rect x="113" y="594" width="1" height="36" fill="#c0c0c0"/>
<rect x="121" y="598" width="1" height="32" fill="#c0c0c0"/>
<rect x="129" y="603" width="1" height="27" fill="#c0c0c0"/>
<rect x="137" y="609" width="1" height="21" fill="#c0c0c0"/>
<rect x="145" y="614" width="1" height="16" fill="#c0c0c0"/>
<rect x="153" y="618" width="1" height="12" fill="#c0c0c0"/>
<rect x="161" y="623" width="1" height="7" fill="#c0c0c0"/>
<rect x="169" y="628" width="1" height="2" fill="#c0c0c0"/>
<rect x="185" y="629" width="1" height="1" fill="#c0c0c0"/>
<rect x="201" y="629" width="1" height="1" fill="#c0c0c0"/>
<rect x="209" y="627" width="1" height="3" fill="#c0c0c0"/>
<rect x="217" y="623" width="1" height="7" fill="#c0c0c0"/>
<rect x="225" y="620" width="1" height="10" fill="#c0c0c0"/>
<rect x="233" y="620" width="1" height="10" fill="#c0c0c0"/>
<rect x="241" y="622" width="1" height="8" fill="#c0c0c0"/>
<rect x="249" y="623" width="1" height="7" fill="#c0c0c0"/>
<rect x="257" y="622" width="1" height="8" fill="#c0c0c0"/>
<rect x="265" y="623" width="1" height="7" fill="#c0c0c0"/>
<rect x="273" y="624" width="1" height="6" fill="#c0c0c0"/>
<rect x="281" y="625" width="1" height="5" fill="#c0c0c0"/>
<rect x="289" y="627" width="1" height="3" fill="#c0c0c0"/>
<rect x="297" y="629" width="1" height="1" fill="#c0c0c0"/>
<rect x="305" y="629" width="1" height="1" fill="#c0c0c0"/>
<rect x="313" y="629" width="1" height="3" fill="#c0c0c0"/>
<rect x="321" y="629" width="1" height="3" fill="#c0c0c0"/>
<rect x="329" y="629" width="1" height="3" fill="#c0c0c0"/>
<rect x="337" y="629" width="1" height="4" fill="#c0c0c0"/>
<rect x="345" y="629" width="1" height="5" fill="#c0c0c0"/>
<rect x="353" y="629" width="1" height="6" fill="#c0c0c0"/>
<rect x="361" y="629" width="1" height="4" fill="#c0c0c0"/>
<rect x="369" y="629" width="1" height="2" fill="#c0c0c0"/>
<rect x="377" y="629" width="1" height="1" fill="#c0c0c0"/>
<rect x="385" y="629" width="1" height="1" fill="#c0c0c0"/>
<rect x="393" y="629" width="1" height="1" fill="#c0c0c0"/>
<rect x="401" y="629" width="1" height="1" fill="#c0c0c0"/>
<rect x="409" y="629" width="1" height="2" fill="#c0c0c0"/>
<rect x="417" y="629" width="1" height="2" fill="#c0c0c0"/>
<rect x="425" y="629" width="1" height="2" fill="#c0c0c0"/>
<rect x="433" y="629" width="1" height="1" fill="#c0c0c0"/>
<rect x="441" y="626" width="1" height="4" fill="#c0c0c0"/>
<rect x="449" y="629" width="1" height="1" fill="#c0c0c0"/>
<rect x="457" y="629" width="1" height="1" fill="#c0c0c0"/>
<rect x="465" y="629" width="1" height="2" fill="#c0c0c0"/>
<rect x="473" y="629" width="1" height="5" fill="#c0c0c0"/>
<rect x="481" y="629" width="1" height="9" fill="#c0c0c0"/>
<rect x="489" y="629" width="1" height="11" fill="#c0c0c0"/>
<rect x="497" y="629" width="1" height="12" fill="#c0c0c0"/>
<rect x="505" y="629" width="1" height="12" fill="#c0c0c0"/>
<rect x="513" y="629" width="1" height="12" fill="#c0c0c0"/>
<rect x="521" y="629" width="1" height="8" fill="#c0c0c0"/>
<rect x="529" y="629" width="1" height="7" fill="#c0c0c0"/>
<rect x="537" y="629" width="1" height="6" fill="#c0c0c0"/>
<rect x="545" y="629" width="1" height="5" fill="#c0c0c0"/>
<rect x="553" y="629" width="1" height="5" fill="#c0c0c0"/>
<rect x="561" y="629" width="1" height="6" fill="#c0c0c0"/>
<rect x="569" y="629" width="1" height="8" fill="#c0c0c0"/>
<rect x="577" y="629" width="1" height="8" fill="#c0c0c0"/>
<rect x="585" y="629" width="1" height="8" fill="#c0c0c0"/>
<rect x="593" y="629" width="1" height="8" fill="#c0c0c0"/>
<rect x="601" y="629" width="1" height="7" fill="#c0c0c0"/>
<rect x="609" y="629" width="1" height="8" fill="#c0c0c0"/>
<rect x="617" y="629" width="1" height="9" fill="#c0c0c0"/>
<rect x="625" y="629" width="1" height="13" fill="#c0c0c0"/>
<rect x="633" y="629" width="1" height="15" fill="#c0c0c0"/>
<rect x="641" y="629" width="1" height="17" fill="#c0c0c0"/>
<rect x="649" y="629" width="1" height="18" fill="#c0c0c0"/>
<rect x="657" y="629" width="1" height="16" fill="#c0c0c0"/>
<rect x="665" y="629" width="1" height="13" fill="#c0c0c0"/>
<rect x="673" y="629" width="1" height="9" fill="#c0c0c0"/>
<rect x="681" y="629" width="1" height="4" fill="#c0c0c0"/>
<rect x="689" y="629" width="1" height="1" fill="#c0c0c0"/>
<rect x="697" y="629" width="1" height="1" fill="#c0c0c0"/>
<rect x="705" y="629" width="1" height="4" fill="#c0c0c0"/>
<rect x="713" y="629" width="1" height="13" fill="#c0c0c0"/>
<rect x="721" y="629" width="1" height="26" fill="#c0c0c0"/>
<rect x="729" y="629" width="1" height="34" fill="#c0c0c0"/>
<rect x="737" y="629" width="1" height="43" fill="#c0c0c0"/>
<rect x="745" y="629" width="1" height="54" fill="#c0c0c0"/>
<rect x="753" y="629" width="1" height="74" fill="#c0c0c0"/>
<rect x="761" y="629" width="1" height="92" fill="#c0c0c0"/>
<rect x="769" y="629" width="1" height="103" fill="#c0c0c0"/>
<rect x="777" y="629" width="1" height="110" fill="#c0c0c0"/>
<rect x="785" y="629" width="1" height="114" fill="#c0c0c0"/>
<rect x="793" y="629" width="1" height="111" fill="#c0c0c0"/>
<rect x="801" y="629" width="1" height="106" fill="#c0c0c0"/>
<rect x="809" y="629" width="1" height="92" fill="#c0c0c0"/>
<rect x="817" y="629" width="1" height="73" fill="#c0c0c0"/>
<rect x="825" y="629" width="1" height="58" fill="#c0c0c0"/>
<rect x="833" y="629" width="1" height="48" fill="#c0c0c0"/>
<rect x="841" y="629" width="1" height="38" fill="#c0c0c0"/>
<rect x="849" y="629" width="1" height="31" fill="#c0c0c0"/>
<rect x="857" y="629" width="1" height="24" fill="#c0c0c0"/>
<rect x="865" y="629" width="1" height="22" fill="#c0c0c0"/>
<rect x="873" y="629" width="1" height="22" fill="#c0c0c0"/>
<rect x="881" y="629" width="1" height="20" fill="#c0c0c0"/>
<rect x="889" y="629" width="1" height="17" fill="#c0c0c0"/>
<rect x="897" y="629" width="1" height="12" fill="#c0c0c0"/>
<rect x="905" y="629" width="1" height="7" fill="#c0c0c0"/>
<rect x="913" y="629" width="1" height="3" fill="#c0c0c0"/>
<rect x="921" y="629" width="1" height="1" fill="#c0c0c0"/>
<rect x="929" y="621" width="1" height="9" fill="#c0c0c0"/>
<rect x="937" y="619" width="1" height="11" fill="#c0c0c0"/>
<rect x="945" y="618" width="1" height="12" fill="#c0c0c0"/>
<rect x="953" y="617" width="1" height="13" fill="#c0c0c0"/>
<rect x="961" y="617" width="1" height="13" fill="#c0c0c0"/>
<rect x="969" y="618" width="1" height="12" fill="#c0c0c0"/>
<rect x="977" y="623" width="1" height="7" fill="#c0c0c0"/>
<rect x="985" y="626" width="1" height="4" fill="#c0c0c0"/>
<rect x="993" y="628" width="1" height="2" fill="#c0c0c0"/>
<rect x="1001" y="628" width="1" height="2" fill="#c0c0c0"/>
<rect x="1009" y="629" width="1" height="1" fill="#c0c0c0"/>
<rect x="1017" y="629" width="1" height="1" fill="#c0c0c0"/>
<rect x="1025" y="628" width="1" height="2" fill="#c0c0c0"/>
<rect x="1033" y="626" width="1" height="4" fill="#c0c0c0"/>
<rect x="1041" y="622" width="1" height="8" fill="#c0c0c0"/>
<rect x="1049" y="622" width="1" height="8" fill="#c0c0c0"/>
<rect x="1057" y="622" width="1" height="8" fill="#c0c0c0"/>
<rect x="1065" y="623" width="1" height="7" fill="#c0c0c0"/>
<rect x="1073" y="624" width="1" height="6" fill="#c0c0c0"/>
<rect x="1081" y="627" width="1" height="3" fill="#c0c0c0"/>
<rect x="1089" y="628" width="1" height="2" fill="#c0c0c0"/>
<rect x="1097" y="629" width="1" height="1" fill="#c0c0c0"/>
<rect x="1105" y="629" width="1" height="1" fill="#c0c0c0"/>
<rect x="1113" y="629" width="1" height="1" fill="#c0c0c0"/>
<rect x="1121" y="629" width="1" height="4" fill="#c0c0c0"/>
<rect x="1129" y="629" width="1" height="7" fill="#c0c0c0"/>
<rect x="1137" y="629" width="1" height="11" fill="#c0c0c0"/>
<rect x="1145" y="629" width="1" height="16" fill="#c0c0c0"/>
<rect x="1153" y="629" width="1" height="20" fill="#c0c0c0"/>
<rect x="1161" y="629" width="1" height="20" fill="#c0c0c0"/>
<rect x="1169" y="629" width="1" height="19" fill="#c0c0c0"/>
<rect x="1177" y="629" width="1" height="18" fill="#c0c0c0"/>
<rect x="1185" y="629" width="1" height="18" fill="#c0c0c0"/>
<rect x="1193" y="629" width="1" height="18" fill="#c0c0c0"/>
<rect x="1201" y="629" width="1" height="18" fill="#c0c0c0"/>
<rect x="1209" y="629" width="1" height="18" fill="#c0c0c0"/>
<rect x="1217" y="629" width="1" height="13" fill="#c0c0c0"/>
<rect x="1225" y="629" width="1" height="11" fill="#c0c0c0"/>
<rect x="1233" y="629" width="1" height="9" fill="#c0c0c0"/>
<rect x="1241" y="629" width="1" height="6" fill="#c0c0c0"/>
<rect x="1249" y="629" width="1" height="4" fill="#c0c0c0"/>
<rect x="1257" y="629" width="1" height="1" fill="#c0c0c0"/>
<rect x="1265" y="622" width="1" height="8" fill="#c0c0c0"/>
<rect x="1273" y="617" width="1" height="13" fill="#c0c0c0"/>
<rect x="1281" y="613" width="1" height="17" fill="#c0c0c0"/>
<rect x="1289" y="608" width="1" height="22" fill="#c0c0c0"/>
<rect x="1297" y="603" width="1" height="27" fill="#c0c0c0"/>
<rect x="1305" y="599" width="1" height="31" fill="#c0c0c0"/>
<rect x="1313" y="597" width="1" height="33" fill="#c0c0c0"/>
<rect x="1321" y="596" width="1" height="34" fill="#c0c0c0"/>
<rect x="1329" y="598" width="1" height="32" fill="#c0c0c0"/>
<rect x="1337" y="603" width="1" height="27" fill="#c0c0c0"/>
<rect x="1345" y="607" width="1" height="23" fill="#c0c0c0"/>
<rect x="1353" y="606" width="1" height="24" fill="#c0c0c0"/>
<rect x="1361" y="608" width="1" height="22" fill="#c0c0c0"/>
<rect x="1369" y="610" width="1" height="20" fill="#c0c0c0"/>
<rect x="1377" y="615" width="1" height="15" fill="#c0c0c0"/>
<rect x="1385" y="621" width="1" height="9" fill="#c0c0c0"/>
<rect x="1393" y="626" width="1" height="4" fill="#c0c0c0"/>
<rect x="1401" y="626" width="1" height="4" fill="#c0c0c0"/>
<rect x="1409" y="626" width="1" height="4" fill="#c0c0c0"/>
<rect x="1417" y="627" width="1" height="3" fill="#c0c0c0"/>
<path d="M125 597h3v1h-3zM131 597h2v1h-2zM119 598h3v1h-3zM133 598h1v1h-1zM137 598h3v1h-3zM113 599h3v1h-3zM143 599h3v1h-3zM107 600h3v1h-3zM149 600h3v1h-3zM103 601h1v1h-1zM155 601h3v1h-3zM1349 601h1v1h-1zM1353 601h3v1h-3zM1359 601h3v1h-3zM101 602h2v1h-2zM161 602h1v1h-1zM1341 602h3v1h-3zM1347 602h2v1h-2zM1365 602h3v1h-3zM96 603h2v1h-2zM162 603h2v1h-2zM1335 603h3v1h-3zM1371 603h3v1h-3zM95 604h1v1h-1zM1331 604h1v1h-1zM1377 604h2v1h-2zM167 605h1v1h-1zM1329 605h2v1h-2zM1379 605h1v1h-1zM90 606h2v1h-2zM168 606h2v1h-2zM1325 606h1v1h-1zM1383 606h1v1h-1zM89 607h1v1h-1zM1323 607h2v1h-2zM1384 607h2v1h-2zM83 608h3v1h-3zM79 609h1v1h-1zM173 609h1v1h-1zM1319 609h1v1h-1zM1389 609h3v1h-3zM77 610h2v1h-2zM174 610h1v1h-1zM1317 610h2v1h-2zM71 611h3v1h-3zM175 611h1v1h-1zM1395 611h3v1h-3zM67 612h1v1h-1zM1401 612h2v1h-2zM61 613h1v1h-1zM65 613h2v1h-2zM179 613h1v1h-1zM1312 613h2v1h-2zM1403 613h1v1h-1zM55 614h1v1h-1zM59 614h2v1h-2zM180 614h2v1h-2zM1311 614h1v1h-1zM1407 614h1v1h-1zM53 615h2v1h-2zM1408 615h2v1h-2zM47 616h3v1h-3zM185 616h1v1h-1zM1306 616h2v1h-2zM1413 616h2v1h-2zM43 617h1v1h-1zM186 617h2v1h-2zM1305 617h1v1h-1zM1415 617h1v1h-1zM-7 618h3v1h-3zM-1 618h3v1h-3zM5 618h3v1h-3zM11 618h2v1h-2zM37 618h1v1h-1zM41 618h2v1h-2zM13 619h1v1h-1zM17 619h3v1h-3zM23 619h3v1h-3zM29 619h3v1h-3zM35 619h2v1h-2zM191 619h1v1h-1zM1301 619h1v1h-1zM192 620h2v1h-2zM981 620h3v1h-3zM987 620h3v1h-3zM993 620h3v1h-3zM999 620h3v1h-3zM1300 620h1v1h-1zM277 621h1v1h-1zM281 621h3v1h-3zM975 621h3v1h-3zM1005 621h2v1h-2zM1299 621h1v1h-1zM197 622h3v1h-3zM263 622h3v1h-3zM269 622h3v1h-3zM275 622h2v1h-2zM287 622h3v1h-3zM971 622h1v1h-1zM1007 622h1v1h-1zM1011 622h2v1h-2zM253 623h1v1h-1zM257 623h3v1h-3zM293 623h3v1h-3zM299 623h2v1h-2zM969 623h2v1h-2zM1013 623h1v1h-1zM1017 623h3v1h-3zM1294 623h2v1h-2zM203 624h3v1h-3zM245 624h3v1h-3zM251 624h2v1h-2zM301 624h1v1h-1zM305 624h3v1h-3zM311 624h3v1h-3zM965 624h1v1h-1zM1023 624h3v1h-3zM1071 624h3v1h-3zM1077 624h3v1h-3zM1083 624h3v1h-3zM1089 624h3v1h-3zM1095 624h3v1h-3zM1101 624h3v1h-3zM1107 624h2v1h-2zM1293 624h1v1h-1zM209 625h3v1h-3zM215 625h3v1h-3zM221 625h3v1h-3zM227 625h3v1h-3zM233 625h3v1h-3zM239 625h3v1h-3zM317 625h2v1h-2zM963 625h2v1h-2zM1029 625h3v1h-3zM1035 625h3v1h-3zM1041 625h3v1h-3zM1047 625h3v1h-3zM1053 625h3v1h-3zM1059 625h3v1h-3zM1065 625h3v1h-3zM1109 625h1v1h-1zM1113 625h3v1h-3zM319 626h1v1h-1zM959 626h1v1h-1zM1119 626h3v1h-3zM1288 626h2v1h-2zM323 627h3v1h-3zM957 627h2v1h-2zM1125 627h3v1h-3zM1287 627h1v1h-1zM329 628h3v1h-3zM952 628h2v1h-2zM1131 628h2v1h-2zM335 629h3v1h-3zM431 629h3v1h-3zM437 629h3v1h-3zM443 629h3v1h-3zM449 629h3v1h-3zM455 629h3v1h-3zM461 629h3v1h-3zM467 629h3v1h-3zM473 629h3v1h-3zM951 629h1v1h-1zM1133 629h1v1h-1zM1282 629h2v1h-2zM341 630h3v1h-3zM347 630h2v1h-2zM421 630h1v1h-1zM425 630h3v1h-3zM479 630h3v1h-3zM485 630h3v1h-3zM947 630h1v1h-1zM1137 630h2v1h-2zM1281 630h1v1h-1zM349 631h1v1h-1zM353 631h3v1h-3zM407 631h3v1h-3zM413 631h3v1h-3zM419 631h2v1h-2zM491 631h3v1h-3zM945 631h2v1h-2zM1139 631h1v1h-1zM359 632h3v1h-3zM365 632h3v1h-3zM371 632h3v1h-3zM377 632h3v1h-3zM383 632h3v1h-3zM389 632h3v1h-3zM395 632h3v1h-3zM401 632h3v1h-3zM497 632h2v1h-2zM1143 632h1v1h-1zM1276 632h2v1h-2zM499 633h1v1h-1zM940 633h2v1h-2zM1144 633h2v1h-2zM1275 633h1v1h-1zM503 634h3v1h-3zM939 634h1v1h-1zM1149 634h2v1h-2zM509 635h2v1h-2zM1151 635h1v1h-1zM1269 635h3v1h-3zM511 636h1v1h-1zM515 636h2v1h-2zM575 636h3v1h-3zM581 636h3v1h-3zM587 636h3v1h-3zM593 636h3v1h-3zM599 636h3v1h-3zM605 636h3v1h-3zM611 636h3v1h-3zM617 636h3v1h-3zM934 636h2v1h-2zM1155 636h3v1h-3zM517 637h1v1h-1zM521 637h3v1h-3zM527 637h3v1h-3zM557 637h3v1h-3zM563 637h3v1h-3zM569 637h3v1h-3zM623 637h3v1h-3zM933 637h1v1h-1zM1161 637h2v1h-2zM1264 637h2v1h-2zM533 638h3v1h-3zM539 638h3v1h-3zM545 638h3v1h-3zM551 638h3v1h-3zM629 638h3v1h-3zM635 638h2v1h-2zM695 638h3v1h-3zM701 638h3v1h-3zM707 638h3v1h-3zM713 638h3v1h-3zM1163 638h1v1h-1zM1263 638h1v1h-1zM637 639h1v1h-1zM641 639h3v1h-3zM691 639h1v1h-1zM719 639h3v1h-3zM928 639h2v1h-2zM1167 639h3v1h-3zM1259 639h1v1h-1zM647 640h3v1h-3zM689 640h2v1h-2zM725 640h3v1h-3zM927 640h1v1h-1zM1257 640h2v1h-2zM653 641h3v1h-3zM659 641h2v1h-2zM683 641h3v1h-3zM731 641h1v1h-1zM1173 641h3v1h-3zM1251 641h3v1h-3zM661 642h1v1h-1zM665 642h3v1h-3zM671 642h3v1h-3zM677 642h3v1h-3zM732 642h2v1h-2zM922 642h2v1h-2zM1179 642h2v1h-2zM1247 642h1v1h-1zM921 643h1v1h-1zM1181 643h1v1h-1zM1185 643h2v1h-2zM1245 643h2v1h-2zM737 644h1v1h-1zM1187 644h1v1h-1zM1239 644h3v1h-3zM738 645h2v1h-2zM916 645h2v1h-2zM1191 645h3v1h-3zM1229 645h1v1h-1zM1233 645h3v1h-3zM915 646h1v1h-1zM1197 646h3v1h-3zM1203 646h2v1h-2zM1215 646h3v1h-3zM1221 646h3v1h-3zM1227 646h2v1h-2zM1205 647h1v1h-1zM1209 647h3v1h-3zM743 648h2v1h-2zM910 648h2v1h-2zM745 649h1v1h-1zM909 649h1v1h-1zM904 651h2v1h-2zM903 652h1v1h-1zM749 653h1v1h-1zM750 654h1v1h-1zM898 654h2v1h-2zM751 655h1v1h-1zM897 655h1v1h-1zM892 657h2v1h-2zM891 658h1v1h-1zM755 659h1v2h-1zM756 661h1v1h-1zM887 661h1v1h-1zM885 662h2v1h-2zM759 665h1v1h-1zM760 666h1v1h-1zM881 666h1v1h-1zM761 667h1v1h-1zM880 667h1v1h-1zM879 668h1v1h-1zM764 671h1v1h-1zM765 672h1v2h-1zM875 672h1v1h-1zM874 673h1v1h-1zM873 674h1v1h-1zM768 677h1v1h-1zM769 678h1v1h-1zM870 678h1v1h-1zM770 679h1v1h-1zM869 679h1v1h-1zM868 680h1v1h-1zM773 683h1v2h-1zM865 684h1v1h-1zM774 685h1v1h-1zM864 685h1v1h-1zM863 686h1v1h-1zM777 689h1v1h-1zM778 690h1v2h-1zM860 690h1v1h-1zM859 691h1v2h-1zM781 695h1v1h-1zM782 696h1v1h-1zM855 696h1v2h-1zM783 697h1v1h-1zM854 698h1v1h-1zM786 701h1v1h-1zM787 702h1v2h-1zM851 702h1v1h-1zM850 703h1v1h-1zM849 704h1v1h-1zM791 707h1v2h-1zM845 708h1v1h-1zM792 709h1v1h-1zM844 709h1v1h-1zM843 710h1v1h-1zM796 713h1v1h-1zM797 714h1v2h-1zM839 714h1v1h-1zM838 715h1v1h-1zM837 716h1v1h-1zM801 719h1v1h-1zM802 720h2v1h-2zM832 720h2v1h-2zM831 721h1v1h-1zM807 723h2v1h-2zM826 723h2v1h-2zM809 724h1v1h-1zM821 724h1v1h-1zM825 724h1v1h-1zM813 725h3v1h-3zM819 725h2v1h-2z" fill="#ff0000"/>
</g>
<text x="-2" y="594" font-size="9" class="ct" stroke="#000" fill="#000" textLength="64.4" lengthAdjust="spacingAndGlyphs">MACD(12,26,9)</text>
<text x="66.1" y="594" font-size="9" class="ct" stroke="#000" fill="#000" textLength="37.3" lengthAdjust="spacingAndGlyphs">0.000649</text>
<text x="107.1" y="594" font-size="9" class="ct" stroke="#000" fill="#000" textLength="37.7" lengthAdjust="spacingAndGlyphs">0.003666</text>
<g clip-path="url(#c3)" shape-rendering="crispEdges">
<line x1="0" y1="789.5" x2="1684" y2="789.5" stroke="#c0c0c0" stroke-width="1" stroke-dasharray="3 3"/>
<line x1="0" y1="840.5" x2="1684" y2="840.5" stroke="#c0c0c0" stroke-width="1" stroke-dasharray="3 3"/>
<line x1="0" y1="901.5" x2="1684" y2="901.5" stroke="#c0c0c0" stroke-width="1" stroke-dasharray="3 3"/>
<path d="M89 783h1v2h-1zM88 785h1v2h-1zM90 785h1v3h-1zM87 787h1v2h-1zM91 788h1v3h-1zM86 789h1v2h-1zM85 791h1v3h-1zM92 791h1v3h-1zM84 794h1v2h-1zM93 794h1v3h-1zM83 796h1v2h-1zM94 797h1v3h-1zM82 798h1v2h-1zM41 800h1v1h-1zM81 800h1v2h-1zM95 800h1v3h-1zM39 801h2v1h-2zM42 801h2v1h-2zM1301 801h5v1h-5zM37 802h2v1h-2zM44 802h1v1h-1zM80 802h1v1h-1zM1296 802h5v1h-5zM1306 802h2v1h-2zM36 803h1v1h-1zM45 803h2v1h-2zM79 803h1v1h-1zM96 803h1v3h-1zM1293 803h3v1h-3zM1308 803h2v1h-2zM34 804h2v1h-2zM47 804h2v1h-2zM61 804h5v1h-5zM78 804h1v1h-1zM1291 804h2v1h-2zM1310 804h2v1h-2zM33 805h1v1h-1zM49 805h12v1h-12zM66 805h2v1h-2zM77 805h1v1h-1zM1289 805h2v1h-2zM1312 805h10v1h-10zM32 806h1v2h-1zM68 806h1v1h-1zM76 806h1v1h-1zM97 806h1v2h-1zM101 806h5v1h-5zM1287 806h2v1h-2zM1321 806h1v1h-1zM69 807h2v1h-2zM75 807h1v1h-1zM98 807h3v1h-3zM106 807h1v2h-1zM1285 807h2v1h-2zM1322 807h1v3h-1zM31 808h1v2h-1zM71 808h2v1h-2zM74 808h1v1h-1zM1284 808h1v1h-1zM73 809h1v1h-1zM107 809h1v1h-1zM1282 809h2v1h-2zM30 810h1v1h-1zM108 810h1v1h-1zM1279 810h3v1h-3zM1323 810h1v3h-1zM29 811h1v2h-1zM109 811h1v2h-1zM1265 811h4v1h-4zM1275 811h4v1h-4zM1264 812h1v1h-1zM1269 812h6v1h-6zM28 813h1v1h-1zM110 813h1v1h-1zM1263 813h1v1h-1zM1324 813h1v3h-1zM27 814h1v2h-1zM111 814h1v1h-1zM1262 814h1v1h-1zM112 815h1v2h-1zM1261 815h1v1h-1zM26 816h1v2h-1zM1260 816h1v1h-1zM1325 816h1v3h-1zM113 817h1v2h-1zM1259 817h1v1h-1zM25 818h1v1h-1zM217 818h9v1h-9zM1258 818h1v1h-1zM24 819h1v1h-1zM114 819h1v2h-1zM216 819h1v2h-1zM226 819h1v2h-1zM1257 819h1v1h-1zM1326 819h1v3h-1zM23 820h1v1h-1zM1256 820h1v2h-1zM22 821h1v1h-1zM115 821h1v2h-1zM215 821h1v2h-1zM227 821h1v2h-1zM433 821h2v1h-2zM929 821h1v1h-1zM1041 821h1v1h-1zM21 822h1v1h-1zM433 822h1v1h-1zM435 822h2v1h-2zM681 822h2v1h-2zM928 822h1v1h-1zM930 822h1v1h-1zM1040 822h1v2h-1zM1042 822h1v2h-1zM1255 822h1v2h-1zM1327 822h1v3h-1zM20 823h1v1h-1zM116 823h1v3h-1zM214 823h1v2h-1zM228 823h1v2h-1zM432 823h1v2h-1zM437 823h3v1h-3zM680 823h1v1h-1zM683 823h2v1h-2zM927 823h1v1h-1zM931 823h1v1h-1zM-7 824h2v1h-2zM19 824h1v1h-1zM440 824h2v1h-2zM679 824h1v1h-1zM685 824h3v1h-3zM925 824h2v1h-2zM932 824h1v1h-1zM1039 824h1v1h-1zM1043 824h1v1h-1zM1254 824h1v2h-1zM1353 824h1v1h-1zM-5 825h4v1h-4zM18 825h1v1h-1zM213 825h1v2h-1zM229 825h1v1h-1zM431 825h1v2h-1zM441 825h1v1h-1zM678 825h1v1h-1zM688 825h2v1h-2zM924 825h1v1h-1zM933 825h1v2h-1zM1038 825h1v1h-1zM1044 825h1v2h-1zM1328 825h1v3h-1zM1352 825h1v2h-1zM1354 825h1v1h-1zM-1 826h3v1h-3zM17 826h1v1h-1zM117 826h1v2h-1zM230 826h1v2h-1zM442 826h1v4h-1zM677 826h1v1h-1zM689 826h1v1h-1zM923 826h1v1h-1zM1037 826h1v2h-1zM1253 826h1v2h-1zM1355 826h1v1h-1zM2 827h2v1h-2zM15 827h2v1h-2zM212 827h1v2h-1zM430 827h1v2h-1zM676 827h1v1h-1zM690 827h1v2h-1zM922 827h1v1h-1zM934 827h1v1h-1zM1045 827h1v1h-1zM1351 827h1v2h-1zM1356 827h1v1h-1zM4 828h1v1h-1zM13 828h2v1h-2zM118 828h1v3h-1zM231 828h1v2h-1zM369 828h1v1h-1zM675 828h1v1h-1zM920 828h2v1h-2zM935 828h1v1h-1zM1036 828h1v1h-1zM1046 828h1v2h-1zM1252 828h1v2h-1zM1329 828h1v2h-1zM1357 828h2v1h-2zM5 829h2v1h-2zM12 829h1v1h-1zM211 829h1v2h-1zM368 829h1v2h-1zM370 829h2v1h-2zM429 829h1v2h-1zM674 829h1v1h-1zM691 829h1v3h-1zM918 829h2v1h-2zM936 829h1v1h-1zM1035 829h1v1h-1zM1350 829h1v1h-1zM1359 829h1v1h-1zM7 830h2v1h-2zM10 830h2v1h-2zM232 830h1v2h-1zM372 830h1v1h-1zM443 830h1v3h-1zM673 830h1v1h-1zM916 830h2v1h-2zM937 830h2v1h-2zM1034 830h1v2h-1zM1047 830h1v1h-1zM1251 830h1v2h-1zM1330 830h1v1h-1zM1349 830h1v2h-1zM1360 830h1v1h-1zM9 831h1v1h-1zM119 831h1v2h-1zM210 831h1v2h-1zM257 831h1v1h-1zM367 831h1v2h-1zM373 831h2v1h-2zM428 831h1v2h-1zM672 831h1v1h-1zM914 831h2v1h-2zM939 831h2v1h-2zM1048 831h1v2h-1zM1331 831h1v2h-1zM1361 831h1v1h-1zM233 832h1v1h-1zM256 832h1v1h-1zM258 832h1v1h-1zM375 832h2v1h-2zM671 832h1v1h-1zM692 832h1v3h-1zM904 832h10v1h-10zM941 832h3v1h-3zM1032 832h2v1h-2zM1250 832h1v2h-1zM1348 832h1v1h-1zM1362 832h2v1h-2zM120 833h1v2h-1zM207 833h3v1h-3zM234 833h1v1h-1zM255 833h1v2h-1zM259 833h2v1h-2zM366 833h1v2h-1zM377 833h1v1h-1zM427 833h1v2h-1zM444 833h1v3h-1zM669 833h2v1h-2zM817 833h4v1h-4zM902 833h2v1h-2zM944 833h18v1h-18zM1030 833h2v1h-2zM1049 833h2v1h-2zM1332 833h1v1h-1zM1347 833h1v2h-1zM1364 833h2v1h-2zM193 834h4v1h-4zM203 834h4v1h-4zM235 834h1v1h-1zM261 834h1v1h-1zM378 834h2v1h-2zM668 834h1v1h-1zM816 834h1v2h-1zM821 834h5v1h-5zM900 834h2v1h-2zM962 834h2v1h-2zM1028 834h2v1h-2zM1051 834h2v1h-2zM1247 834h3v1h-3zM1333 834h1v1h-1zM1366 834h2v1h-2zM121 835h1v2h-1zM192 835h1v2h-1zM197 835h6v1h-6zM236 835h1v1h-1zM254 835h1v1h-1zM262 835h1v1h-1zM365 835h1v2h-1zM380 835h1v1h-1zM426 835h1v2h-1zM667 835h1v1h-1zM693 835h1v2h-1zM826 835h2v1h-2zM898 835h2v1h-2zM964 835h2v1h-2zM1026 835h2v1h-2zM1053 835h3v1h-3zM1217 835h1v2h-1zM1243 835h4v1h-4zM1334 835h1v1h-1zM1346 835h1v2h-1zM1368 835h2v1h-2zM237 836h1v2h-1zM253 836h1v1h-1zM263 836h2v1h-2zM381 836h2v1h-2zM445 836h1v4h-1zM521 836h2v1h-2zM535 836h3v1h-3zM666 836h1v1h-1zM815 836h1v2h-1zM828 836h2v1h-2zM896 836h2v1h-2zM966 836h2v1h-2zM1021 836h5v1h-5zM1056 836h3v1h-3zM1218 836h1v1h-1zM1237 836h6v1h-6zM1335 836h1v2h-1zM1370 836h1v2h-1zM1407 836h3v1h-3zM122 837h2v1h-2zM191 837h1v1h-1zM252 837h1v1h-1zM265 837h2v1h-2zM364 837h1v2h-1zM383 837h2v1h-2zM425 837h1v2h-1zM520 837h1v2h-1zM523 837h4v1h-4zM531 837h4v1h-4zM538 837h1v1h-1zM665 837h1v1h-1zM694 837h1v3h-1zM830 837h2v1h-2zM837 837h8v1h-8zM853 837h5v1h-5zM893 837h3v1h-3zM968 837h2v1h-2zM1017 837h4v1h-4zM1059 837h4v1h-4zM1216 837h1v2h-1zM1219 837h1v1h-1zM1233 837h4v1h-4zM1343 837h3v1h-3zM1403 837h4v1h-4zM1410 837h1v1h-1zM124 838h1v1h-1zM190 838h1v2h-1zM238 838h1v1h-1zM251 838h1v2h-1zM267 838h4v1h-4zM385 838h1v1h-1zM527 838h4v1h-4zM539 838h1v1h-1zM664 838h1v2h-1zM814 838h1v2h-1zM832 838h5v1h-5zM845 838h8v1h-8zM858 838h1v1h-1zM891 838h2v1h-2zM970 838h1v2h-1zM1015 838h2v1h-2zM1063 838h11v1h-11zM1220 838h1v1h-1zM1231 838h2v1h-2zM1336 838h1v1h-1zM1339 838h4v1h-4zM1371 838h1v2h-1zM1401 838h2v1h-2zM1411 838h1v2h-1zM125 839h2v1h-2zM239 839h1v1h-1zM271 839h3v1h-3zM363 839h1v2h-1zM386 839h2v1h-2zM424 839h1v1h-1zM519 839h1v2h-1zM540 839h1v1h-1zM601 839h1v1h-1zM859 839h1v1h-1zM889 839h2v1h-2zM1014 839h1v1h-1zM1074 839h1v2h-1zM1215 839h1v2h-1zM1221 839h1v1h-1zM1230 839h1v1h-1zM1337 839h2v1h-2zM1401 839h1v1h-1zM127 840h2v1h-2zM189 840h1v1h-1zM240 840h1v1h-1zM250 840h1v1h-1zM274 840h2v1h-2zM329 840h1v1h-1zM388 840h2v1h-2zM423 840h1v2h-1zM446 840h1v3h-1zM541 840h2v1h-2zM600 840h1v2h-1zM602 840h1v2h-1zM663 840h1v1h-1zM695 840h1v3h-1zM813 840h1v1h-1zM860 840h1v1h-1zM888 840h1v1h-1zM971 840h1v1h-1zM1013 840h1v1h-1zM1101 840h5v1h-5zM1222 840h1v1h-1zM1229 840h1v1h-1zM1372 840h1v1h-1zM1400 840h1v2h-1zM1412 840h1v1h-1zM129 841h1v1h-1zM188 841h1v2h-1zM241 841h9v1h-9zM276 841h2v1h-2zM327 841h2v1h-2zM330 841h1v1h-1zM362 841h1v2h-1zM390 841h2v1h-2zM518 841h1v2h-1zM543 841h1v1h-1zM662 841h1v1h-1zM812 841h1v2h-1zM861 841h2v1h-2zM887 841h1v1h-1zM972 841h1v2h-1zM1011 841h2v1h-2zM1075 841h1v2h-1zM1096 841h5v1h-5zM1106 841h1v1h-1zM1214 841h1v2h-1zM1223 841h1v1h-1zM1227 841h2v1h-2zM1373 841h1v2h-1zM1413 841h1v1h-1zM130 842h1v1h-1zM278 842h2v1h-2zM326 842h1v1h-1zM331 842h1v1h-1zM392 842h10v1h-10zM422 842h1v1h-1zM544 842h1v1h-1zM599 842h1v1h-1zM603 842h1v1h-1zM661 842h1v2h-1zM863 842h1v1h-1zM885 842h2v1h-2zM1010 842h1v1h-1zM1093 842h3v1h-3zM1107 842h1v1h-1zM1224 842h1v1h-1zM1226 842h1v1h-1zM1399 842h1v2h-1zM1414 842h1v1h-1zM131 843h2v1h-2zM187 843h1v1h-1zM280 843h5v1h-5zM325 843h1v1h-1zM332 843h1v1h-1zM361 843h1v1h-1zM402 843h1v1h-1zM421 843h1v1h-1zM447 843h1v3h-1zM517 843h1v1h-1zM545 843h4v1h-4zM598 843h1v2h-1zM604 843h1v2h-1zM696 843h1v2h-1zM811 843h1v2h-1zM864 843h1v1h-1zM884 843h1v1h-1zM973 843h1v1h-1zM1005 843h5v1h-5zM1076 843h1v1h-1zM1091 843h2v1h-2zM1108 843h1v1h-1zM1213 843h1v2h-1zM1225 843h1v1h-1zM1374 843h1v1h-1zM1415 843h1v2h-1zM133 844h1v1h-1zM186 844h1v2h-1zM285 844h6v1h-6zM323 844h2v1h-2zM333 844h1v1h-1zM360 844h1v1h-1zM403 844h2v1h-2zM420 844h1v1h-1zM516 844h1v2h-1zM549 844h5v1h-5zM577 844h2v1h-2zM660 844h1v1h-1zM865 844h2v1h-2zM883 844h1v1h-1zM974 844h1v2h-1zM992 844h13v1h-13zM1077 844h1v2h-1zM1089 844h2v1h-2zM1109 844h1v2h-1zM1375 844h1v2h-1zM1398 844h1v2h-1zM134 845h1v1h-1zM291 845h2v1h-2zM322 845h1v1h-1zM334 845h1v1h-1zM359 845h1v1h-1zM405 845h1v1h-1zM419 845h1v2h-1zM554 845h1v1h-1zM577 845h1v1h-1zM579 845h2v1h-2zM597 845h1v1h-1zM605 845h1v1h-1zM659 845h1v1h-1zM697 845h1v2h-1zM810 845h1v2h-1zM867 845h2v1h-2zM882 845h1v1h-1zM989 845h3v1h-3zM1088 845h1v1h-1zM1212 845h1v2h-1zM1416 845h1v1h-1zM135 846h2v1h-2zM184 846h2v1h-2zM293 846h3v1h-3zM319 846h3v1h-3zM335 846h1v1h-1zM357 846h2v1h-2zM406 846h1v1h-1zM448 846h1v4h-1zM457 846h1v1h-1zM515 846h1v2h-1zM555 846h1v2h-1zM576 846h1v2h-1zM581 846h3v1h-3zM596 846h1v2h-1zM606 846h1v2h-1zM658 846h1v2h-1zM869 846h3v1h-3zM877 846h5v1h-5zM975 846h1v1h-1zM987 846h2v1h-2zM1078 846h1v1h-1zM1087 846h1v1h-1zM1110 846h1v1h-1zM1376 846h1v2h-1zM1397 846h1v3h-1zM137 847h12v1h-12zM182 847h2v1h-2zM296 847h2v1h-2zM315 847h4v1h-4zM336 847h1v1h-1zM356 847h1v1h-1zM407 847h2v1h-2zM418 847h1v1h-1zM455 847h2v1h-2zM458 847h2v1h-2zM584 847h2v1h-2zM698 847h1v1h-1zM809 847h1v2h-1zM872 847h5v1h-5zM976 847h1v2h-1zM983 847h4v1h-4zM1079 847h1v2h-1zM1085 847h2v1h-2zM1111 847h1v1h-1zM1211 847h1v2h-1zM149 848h5v1h-5zM180 848h2v1h-2zM298 848h1v1h-1zM313 848h2v1h-2zM337 848h2v1h-2zM355 848h1v1h-1zM409 848h9v1h-9zM453 848h2v1h-2zM460 848h2v1h-2zM514 848h1v2h-1zM556 848h1v1h-1zM575 848h1v2h-1zM586 848h2v1h-2zM595 848h1v1h-1zM607 848h1v1h-1zM657 848h1v1h-1zM699 848h1v1h-1zM979 848h4v1h-4zM1084 848h1v1h-1zM1112 848h1v1h-1zM1169 848h2v1h-2zM1377 848h1v1h-1zM154 849h1v1h-1zM178 849h2v1h-2zM299 849h1v1h-1zM311 849h2v1h-2zM339 849h4v1h-4zM354 849h1v1h-1zM452 849h1v1h-1zM462 849h2v1h-2zM557 849h1v1h-1zM588 849h2v1h-2zM594 849h1v2h-1zM608 849h1v2h-1zM656 849h1v1h-1zM700 849h1v1h-1zM808 849h1v2h-1zM977 849h2v1h-2zM1080 849h1v2h-1zM1083 849h1v1h-1zM1113 849h1v1h-1zM1168 849h1v1h-1zM1171 849h4v1h-4zM1210 849h1v2h-1zM1378 849h1v1h-1zM1396 849h1v2h-1zM155 850h2v1h-2zM177 850h1v1h-1zM300 850h1v1h-1zM310 850h1v1h-1zM343 850h11v1h-11zM449 850h3v1h-3zM464 850h2v1h-2zM505 850h9v1h-9zM558 850h1v1h-1zM574 850h1v2h-1zM590 850h2v1h-2zM655 850h1v1h-1zM701 850h1v1h-1zM1082 850h1v1h-1zM1114 850h1v1h-1zM1167 850h1v1h-1zM1175 850h6v1h-6zM1379 850h1v1h-1zM157 851h1v1h-1zM175 851h2v1h-2zM301 851h2v1h-2zM309 851h1v1h-1zM449 851h1v1h-1zM466 851h1v1h-1zM504 851h1v1h-1zM559 851h1v2h-1zM592 851h2v1h-2zM609 851h2v1h-2zM654 851h1v1h-1zM702 851h1v1h-1zM807 851h1v3h-1zM1081 851h1v1h-1zM1115 851h1v1h-1zM1165 851h2v1h-2zM1181 851h5v1h-5zM1209 851h1v2h-1zM1380 851h1v1h-1zM1395 851h1v2h-1zM158 852h1v1h-1zM174 852h1v1h-1zM303 852h1v1h-1zM307 852h2v1h-2zM467 852h1v1h-1zM503 852h1v1h-1zM573 852h1v2h-1zM611 852h2v1h-2zM653 852h1v1h-1zM703 852h1v1h-1zM1116 852h1v1h-1zM1164 852h1v1h-1zM1186 852h1v1h-1zM1208 852h1v1h-1zM1381 852h2v1h-2zM159 853h2v1h-2zM173 853h1v1h-1zM304 853h1v1h-1zM306 853h1v1h-1zM468 853h1v1h-1zM501 853h2v1h-2zM560 853h1v1h-1zM613 853h3v1h-3zM652 853h1v1h-1zM704 853h1v1h-1zM1117 853h1v1h-1zM1163 853h1v1h-1zM1187 853h2v1h-2zM1205 853h3v1h-3zM1383 853h1v1h-1zM1394 853h1v2h-1zM161 854h2v1h-2zM171 854h2v1h-2zM305 854h1v1h-1zM469 854h2v1h-2zM500 854h1v1h-1zM561 854h1v1h-1zM572 854h1v2h-1zM616 854h2v1h-2zM651 854h1v1h-1zM705 854h1v1h-1zM806 854h1v2h-1zM1118 854h1v1h-1zM1162 854h1v1h-1zM1189 854h1v1h-1zM1203 854h2v1h-2zM1384 854h1v1h-1zM163 855h4v1h-4zM170 855h1v1h-1zM471 855h1v1h-1zM499 855h1v1h-1zM562 855h1v1h-1zM618 855h1v1h-1zM650 855h1v1h-1zM706 855h1v2h-1zM1119 855h1v1h-1zM1161 855h1v2h-1zM1190 855h1v1h-1zM1199 855h4v1h-4zM1385 855h4v1h-4zM1393 855h1v2h-1zM167 856h3v1h-3zM472 856h1v1h-1zM498 856h1v1h-1zM563 856h2v1h-2zM571 856h1v2h-1zM619 856h1v2h-1zM649 856h1v1h-1zM805 856h1v3h-1zM1120 856h1v1h-1zM1191 856h2v1h-2zM1195 856h4v1h-4zM1389 856h4v1h-4zM473 857h1v1h-1zM496 857h2v1h-2zM565 857h1v1h-1zM648 857h1v1h-1zM707 857h1v2h-1zM1121 857h2v1h-2zM1160 857h1v2h-1zM1193 857h2v1h-2zM474 858h2v1h-2zM494 858h2v1h-2zM566 858h1v1h-1zM570 858h1v2h-1zM620 858h1v1h-1zM647 858h1v1h-1zM1123 858h4v1h-4zM476 859h1v1h-1zM492 859h2v1h-2zM567 859h2v1h-2zM621 859h1v1h-1zM646 859h1v1h-1zM708 859h1v2h-1zM804 859h1v2h-1zM1127 859h11v1h-11zM1159 859h1v2h-1zM477 860h2v1h-2zM490 860h2v1h-2zM569 860h1v1h-1zM622 860h1v1h-1zM645 860h1v2h-1zM1138 860h1v2h-1zM479 861h2v1h-2zM485 861h5v1h-5zM623 861h1v2h-1zM632 861h2v1h-2zM709 861h1v2h-1zM803 861h1v3h-1zM1158 861h1v2h-1zM481 862h4v1h-4zM629 862h3v1h-3zM634 862h2v1h-2zM644 862h1v1h-1zM1139 862h1v1h-1zM624 863h1v1h-1zM627 863h2v1h-2zM636 863h2v1h-2zM643 863h1v1h-1zM710 863h1v2h-1zM1140 863h1v1h-1zM1157 863h1v2h-1zM625 864h2v1h-2zM638 864h2v1h-2zM642 864h1v1h-1zM802 864h1v2h-1zM1141 864h1v2h-1zM640 865h2v1h-2zM711 865h1v2h-1zM1156 865h1v2h-1zM801 866h1v2h-1zM1142 866h1v1h-1zM712 867h1v2h-1zM1143 867h1v1h-1zM1155 867h1v2h-1zM799 868h2v1h-2zM1144 868h1v2h-1zM713 869h1v2h-1zM797 869h2v1h-2zM1154 869h1v2h-1zM796 870h1v1h-1zM1145 870h2v1h-2zM714 871h1v2h-1zM794 871h2v1h-2zM1147 871h4v1h-4zM1153 871h1v2h-1zM793 872h1v2h-1zM1151 872h2v1h-2zM715 873h1v2h-1zM729 873h1v1h-1zM728 874h1v1h-1zM730 874h2v1h-2zM792 874h1v2h-1zM716 875h1v1h-1zM727 875h1v2h-1zM732 875h1v1h-1zM717 876h1v2h-1zM733 876h2v1h-2zM791 876h1v2h-1zM726 877h1v1h-1zM735 877h2v1h-2zM718 878h1v1h-1zM725 878h1v1h-1zM737 878h1v1h-1zM790 878h1v2h-1zM719 879h1v2h-1zM724 879h1v1h-1zM738 879h1v1h-1zM723 880h1v2h-1zM739 880h2v1h-2zM789 880h1v2h-1zM720 881h1v2h-1zM741 881h1v1h-1zM722 882h1v1h-1zM742 882h1v1h-1zM788 882h1v2h-1zM721 883h1v1h-1zM743 883h2v1h-2zM745 884h1v1h-1zM787 884h1v2h-1zM746 885h1v2h-1zM786 886h1v2h-1zM747 887h1v1h-1zM748 888h1v2h-1zM776 888h10v1h-10zM773 889h3v1h-3zM749 890h1v1h-1zM771 890h2v1h-2zM750 891h1v2h-1zM769 891h2v1h-2zM768 892h1v1h-1zM751 893h1v1h-1zM767 893h1v1h-1zM752 894h1v2h-1zM766 894h1v1h-1zM765 895h1v1h-1zM753 896h2v1h-2zM764 896h1v1h-1zM755 897h2v1h-2zM763 897h1v1h-1zM757 898h3v1h-3zM762 898h1v1h-1zM760 899h2v1h-2z" fill="#1e90ff"/>
</g>
<text x="-2" y="766.3" font-size="9" class="ct" stroke="#000" fill="#000" textLength="31.1" lengthAdjust="spacingAndGlyphs">RSI(14)</text>
<text x="32.7" y="766.3" font-size="9" class="ct" stroke="#000" fill="#000" textLength="32.2" lengthAdjust="spacingAndGlyphs">46.4336</text>
<g shape-rendering="crispEdges" fill="#000">
<rect x="57" y="928" width="1" height="3"/>
<rect x="121" y="928" width="1" height="3"/>
<rect x="185" y="928" width="1" height="3"/>
<rect x="249" y="928" width="1" height="3"/>
<rect x="313" y="928" width="1" height="3"/>
<rect x="377" y="928" width="1" height="3"/>
<rect x="441" y="928" width="1" height="3"/>
<rect x="505" y="928" width="1" height="3"/>
<rect x="569" y="928" width="1" height="3"/>
<rect x="633" y="928" width="1" height="3"/>
<rect x="697" y="928" width="1" height="3"/>
<rect x="761" y="928" width="1" height="3"/>
<rect x="825" y="928" width="1" height="3"/>
<rect x="889" y="928" width="1" height="3"/>
<rect x="953" y="928" width="1" height="3"/>
<rect x="1017" y="928" width="1" height="3"/>
<rect x="1081" y="928" width="1" height="3"/>
<rect x="1145" y="928" width="1" height="3"/>
<rect x="1209" y="928" width="1" height="3"/>
<rect x="1273" y="928" width="1" height="3"/>
<rect x="1337" y="928" width="1" height="3"/>
<rect x="1401" y="928" width="1" height="3"/>
</g>
<text transform="translate(-6.8,939.8) scale(1,1)" font-size="9" fill="#000" stroke="#000" class="ct">28 Nov 2019</text>
<text transform="translate(56,939.8) scale(1,1)" font-size="9" fill="#000" stroke="#000" class="ct">8 Dec 2019</text>
<text transform="translate(120,939.8) scale(1,1)" font-size="9" fill="#000" stroke="#000" class="ct">17 Dec 2019</text>
<text transform="translate(184,939.8) scale(1,1)" font-size="9" fill="#000" stroke="#000" class="ct">26 Dec 2019</text>
<text transform="translate(248,939.8) scale(1,1)" font-size="9" fill="#000" stroke="#000" class="ct">5 Jan 2020</text>
<text transform="translate(312,939.8) scale(1,1)" font-size="9" fill="#000" stroke="#000" class="ct">14 Jan 2020</text>
<text transform="translate(376,939.8) scale(1,1)" font-size="9" fill="#000" stroke="#000" class="ct">23 Jan 2020</text>
<text transform="translate(440,939.8) scale(1,1)" font-size="9" fill="#000" stroke="#000" class="ct">2 Feb 2020</text>
<text transform="translate(504,939.8) scale(1,1)" font-size="9" fill="#000" stroke="#000" class="ct">11 Feb 2020</text>
<text transform="translate(568,939.8) scale(1,1)" font-size="9" fill="#000" stroke="#000" class="ct">20 Feb 2020</text>
<text transform="translate(632,939.8) scale(1,1)" font-size="9" fill="#000" stroke="#000" class="ct">1 Mar 2020</text>
<text transform="translate(696,939.8) scale(1,1)" font-size="9" fill="#000" stroke="#000" class="ct">10 Mar 2020</text>
<text transform="translate(760,939.8) scale(1,1)" font-size="9" fill="#000" stroke="#000" class="ct">19 Mar 2020</text>
<text transform="translate(824,939.8) scale(1,1)" font-size="9" fill="#000" stroke="#000" class="ct">29 Mar 2020</text>
<text transform="translate(888,939.8) scale(1,1)" font-size="9" fill="#000" stroke="#000" class="ct">7 Apr 2020</text>
<text transform="translate(952,939.8) scale(1,1)" font-size="9" fill="#000" stroke="#000" class="ct">17 Apr 2020</text>
<text transform="translate(1016,939.8) scale(1,1)" font-size="9" fill="#000" stroke="#000" class="ct">27 Apr 2020</text>
<text transform="translate(1080,939.8) scale(1,1)" font-size="9" fill="#000" stroke="#000" class="ct">6 May 2020</text>
<text transform="translate(1144,939.8) scale(1,1)" font-size="9" fill="#000" stroke="#000" class="ct">15 May 2020</text>
<text transform="translate(1208,939.8) scale(1,1)" font-size="9" fill="#000" stroke="#000" class="ct">25 May 2020</text>
<text transform="translate(1272,939.8) scale(1,1)" font-size="9" fill="#000" stroke="#000" class="ct">3 Jun 2020</text>
<text transform="translate(1336,939.8) scale(1,1)" font-size="9" fill="#000" stroke="#000" class="ct">12 Jun 2020</text>
<text transform="translate(1400,939.8) scale(1,1)" font-size="9" fill="#000" stroke="#000" class="ct">22 Jun 2020</text>
<polygon points="0,34 4,38 0,38" fill="#000"/>
<text x="8.3" y="38" font-size="9" class="ct" stroke="#000" fill="#000" textLength="66.7" lengthAdjust="spacingAndGlyphs">GBPUSD-,Daily</text>
<text x="81.3" y="38" font-size="9" class="ct" stroke="#000" fill="#000" textLength="140.5" lengthAdjust="spacingAndGlyphs">1.25234 1.25416 1.24137 1.24164</text>
</svg>
<div id="oct">
<svg width="216" height="64" viewBox="0 0 216 64">
<defs>
<linearGradient id="rg1" x1="0" y1="0" x2="0" y2="1"><stop offset="0" stop-color="#f25353"/><stop offset="1" stop-color="#dc2f2f"/></linearGradient>
<linearGradient id="rg2" x1="0" y1="0" x2="0" y2="1"><stop offset="0" stop-color="#d82a2a"/><stop offset="0.55" stop-color="#c41616"/><stop offset="1" stop-color="#aa0000"/></linearGradient>
<linearGradient id="gg" x1="0" y1="0" x2="0" y2="1"><stop offset="0" stop-color="#f4f4f6"/><stop offset="0.5" stop-color="#e2e3e8"/><stop offset="1" stop-color="#d2d3da"/></linearGradient>
</defs>
<rect x="0" y="0" width="48" height="24" fill="url(#rg1)"/>
<rect x="163" y="0" width="52" height="24" fill="url(#rg1)"/>
<rect x="0" y="23" width="44" height="1" fill="#f7a0a0" opacity="0.75"/>
<rect x="167" y="23" width="44" height="1" fill="#f7a0a0" opacity="0.75"/>
<rect x="0" y="24" width="105" height="40" fill="url(#rg2)"/>
<rect x="107" y="24" width="108" height="40" fill="url(#rg2)"/>
<rect x="48" y="0" width="115" height="24" fill="#fff"/><rect x="105" y="24" width="2" height="40" fill="#fff"/>
<rect x="50.5" y="1.5" width="110" height="20" fill="#fff" stroke="#b9bcc6" stroke-width="1"/>
<rect x="51" y="2" width="20" height="19" fill="url(#gg)"/><rect x="71" y="2" width="1" height="19" fill="#b9bcc6"/>
<rect x="140" y="2" width="20" height="19" fill="url(#gg)"/><rect x="139" y="2" width="1" height="19" fill="#b9bcc6"/>
<polygon points="57.5,9 63.5,9 60.5,12.5" fill="#5a6fc8"/>
<polygon points="146.5,12.5 152.5,12.5 149.5,9" fill="#5a6fc8"/>
<text x="135.6" y="14.4" font-size="13" fill="#000" text-anchor="end">1.00</text>
<text x="8" y="16.2" font-size="13.5" fill="#fff" textLength="26" lengthAdjust="spacingAndGlyphs">SELL</text>
<text x="176" y="16.2" font-size="13.5" fill="#fff" textLength="24" lengthAdjust="spacingAndGlyphs">BUY</text>
<text x="16" y="56" font-size="13" font-weight="bold" fill="#fff" textLength="24" lengthAdjust="spacingAndGlyphs">1.24</text>
<text x="42.6" y="55.2" font-size="33.3" fill="#fff" textLength="35" lengthAdjust="spacingAndGlyphs">16</text>
<text x="83.2" y="38.7" font-size="11.5" font-weight="bold" fill="#fff">4</text>
<text x="126" y="56" font-size="13" font-weight="bold" fill="#fff" textLength="24" lengthAdjust="spacingAndGlyphs">1.24</text>
<text x="154.2" y="55.2" font-size="33.3" fill="#fff" textLength="34.2" lengthAdjust="spacingAndGlyphs">20</text>
<text x="193.8" y="38.7" font-size="11.5" font-weight="bold" fill="#fff">5</text>
</svg>
</div>

<div id="tb"></div><div id="tbline"></div>
<svg id="tbs" style="position:absolute;left:0;top:0" width="1731" height="24" viewBox="0 0 1731 24">
<defs>
<pattern id="dot" width="2" height="2" patternUnits="userSpaceOnUse"><rect width="2" height="2" fill="#f0f0f0"/><rect width="1" height="1" fill="#ffffff"/><rect x="1" y="1" width="1" height="1" fill="#ffffff"/></pattern>
<linearGradient id="gold" x1="0.2" y1="0" x2="0.8" y2="1"><stop offset="0" stop-color="#fff3a0"/><stop offset="0.45" stop-color="#f2cc3c"/><stop offset="1" stop-color="#d09a18"/></linearGradient>
<linearGradient id="grn" x1="0" y1="0" x2="0" y2="1"><stop offset="0" stop-color="#7aff7a"/><stop offset="0.5" stop-color="#22e022"/><stop offset="1" stop-color="#08b008"/></linearGradient>
<radialGradient id="lens" cx="0.4" cy="0.35" r="0.7"><stop offset="0" stop-color="#ffffff"/><stop offset="1" stop-color="#bfe0f7"/></radialGradient>
<linearGradient id="bub" x1="0" y1="0" x2="0" y2="1"><stop offset="0" stop-color="#ffffff"/><stop offset="1" stop-color="#d4d6e0"/></linearGradient>
<linearGradient id="blu" x1="0" y1="0" x2="0" y2="1"><stop offset="0" stop-color="#3f8cf0"/><stop offset="1" stop-color="#1246b8"/></linearGradient>
<linearGradient id="grn2" x1="0" y1="0" x2="0" y2="1"><stop offset="0" stop-color="#3fa82a"/><stop offset="1" stop-color="#237a10"/></linearGradient>
<linearGradient id="sig" x1="0" y1="0" x2="1" y2="0"><stop offset="0" stop-color="#a8c0f0"/><stop offset="0.3" stop-color="#4f86e0"/><stop offset="0.5" stop-color="#5a8fd8"/><stop offset="0.62" stop-color="#6ab86a"/><stop offset="1" stop-color="#a8d8a8"/></linearGradient>
</defs>
<rect x="320" y="0" width="24" height="20" fill="url(#dot)"/>
<rect x="472" y="0" width="24" height="20" fill="url(#dot)"/>
<rect x="500" y="0" width="24" height="20" fill="url(#dot)"/>
<rect x="660" y="0" width="24" height="20" fill="url(#dot)"/>
<rect x="1134" y="0" width="24" height="20" fill="url(#dot)"/>
<rect x="45" y="0" width="1" height="20" fill="#9a9a9a" shape-rendering="crispEdges"/>
<rect x="281" y="0" width="1" height="22" fill="#9a9a9a" shape-rendering="crispEdges"/>
<rect x="282" y="0" width="1" height="22" fill="#fff" shape-rendering="crispEdges"/>
<rect x="285" y="0" width="3" height="1" fill="#9a9a9a" shape-rendering="crispEdges"/>
<rect x="285" y="1" width="3" height="1" fill="#f8f8f8" shape-rendering="crispEdges"/>
<rect x="285" y="2" width="3" height="1" fill="#9a9a9a" shape-rendering="crispEdges"/>
<rect x="285" y="3" width="3" height="1" fill="#f8f8f8" shape-rendering="crispEdges"/>
<rect x="285" y="4" width="3" height="1" fill="#9a9a9a" shape-rendering="crispEdges"/>
<rect x="285" y="5" width="3" height="1" fill="#f8f8f8" shape-rendering="crispEdges"/>
<rect x="285" y="6" width="3" height="1" fill="#9a9a9a" shape-rendering="crispEdges"/>
<rect x="285" y="7" width="3" height="1" fill="#f8f8f8" shape-rendering="crispEdges"/>
<rect x="285" y="8" width="3" height="1" fill="#9a9a9a" shape-rendering="crispEdges"/>
<rect x="285" y="9" width="3" height="1" fill="#f8f8f8" shape-rendering="crispEdges"/>
<rect x="285" y="10" width="3" height="1" fill="#9a9a9a" shape-rendering="crispEdges"/>
<rect x="285" y="11" width="3" height="1" fill="#f8f8f8" shape-rendering="crispEdges"/>
<rect x="285" y="12" width="3" height="1" fill="#9a9a9a" shape-rendering="crispEdges"/>
<rect x="285" y="13" width="3" height="1" fill="#f8f8f8" shape-rendering="crispEdges"/>
<rect x="285" y="14" width="3" height="1" fill="#9a9a9a" shape-rendering="crispEdges"/>
<rect x="285" y="15" width="3" height="1" fill="#f8f8f8" shape-rendering="crispEdges"/>
<rect x="285" y="16" width="3" height="1" fill="#9a9a9a" shape-rendering="crispEdges"/>
<rect x="285" y="17" width="3" height="1" fill="#f8f8f8" shape-rendering="crispEdges"/>
<rect x="285" y="18" width="3" height="1" fill="#9a9a9a" shape-rendering="crispEdges"/>
<rect x="285" y="19" width="3" height="1" fill="#f8f8f8" shape-rendering="crispEdges"/>
<rect x="319" y="0" width="1" height="20" fill="#9a9a9a" shape-rendering="crispEdges"/>
<rect x="376" y="0" width="1" height="20" fill="#9a9a9a" shape-rendering="crispEdges"/>
<rect x="466" y="0" width="1" height="20" fill="#9a9a9a" shape-rendering="crispEdges"/>
<rect x="471" y="0" width="1" height="20" fill="#9a9a9a" shape-rendering="crispEdges"/>
<rect x="499" y="0" width="1" height="20" fill="#9a9a9a" shape-rendering="crispEdges"/>
<rect x="528" y="0" width="1" height="20" fill="#9a9a9a" shape-rendering="crispEdges"/>
<rect x="649" y="0" width="1" height="22" fill="#9a9a9a" shape-rendering="crispEdges"/>
<rect x="650" y="0" width="1" height="22" fill="#fff" shape-rendering="crispEdges"/>
<rect x="653" y="0" width="3" height="1" fill="#9a9a9a" shape-rendering="crispEdges"/>
<rect x="653" y="1" width="3" height="1" fill="#f8f8f8" shape-rendering="crispEdges"/>
<rect x="653" y="2" width="3" height="1" fill="#9a9a9a" shape-rendering="crispEdges"/>
<rect x="653" y="3" width="3" height="1" fill="#f8f8f8" shape-rendering="crispEdges"/>
<rect x="653" y="4" width="3" height="1" fill="#9a9a9a" shape-rendering="crispEdges"/>
<rect x="653" y="5" width="3" height="1" fill="#f8f8f8" shape-rendering="crispEdges"/>
<rect x="653" y="6" width="3" height="1" fill="#9a9a9a" shape-rendering="crispEdges"/>
<rect x="653" y="7" width="3" height="1" fill="#f8f8f8" shape-rendering="crispEdges"/>
<rect x="653" y="8" width="3" height="1" fill="#9a9a9a" shape-rendering="crispEdges"/>
<rect x="653" y="9" width="3" height="1" fill="#f8f8f8" shape-rendering="crispEdges"/>
<rect x="653" y="10" width="3" height="1" fill="#9a9a9a" shape-rendering="crispEdges"/>
<rect x="653" y="11" width="3" height="1" fill="#f8f8f8" shape-rendering="crispEdges"/>
<rect x="653" y="12" width="3" height="1" fill="#9a9a9a" shape-rendering="crispEdges"/>
<rect x="653" y="13" width="3" height="1" fill="#f8f8f8" shape-rendering="crispEdges"/>
<rect x="653" y="14" width="3" height="1" fill="#9a9a9a" shape-rendering="crispEdges"/>
<rect x="653" y="15" width="3" height="1" fill="#f8f8f8" shape-rendering="crispEdges"/>
<rect x="653" y="16" width="3" height="1" fill="#9a9a9a" shape-rendering="crispEdges"/>
<rect x="653" y="17" width="3" height="1" fill="#f8f8f8" shape-rendering="crispEdges"/>
<rect x="653" y="18" width="3" height="1" fill="#9a9a9a" shape-rendering="crispEdges"/>
<rect x="653" y="19" width="3" height="1" fill="#f8f8f8" shape-rendering="crispEdges"/>
<rect x="659" y="0" width="1" height="20" fill="#9a9a9a" shape-rendering="crispEdges"/>
<rect x="716" y="0" width="1" height="20" fill="#9a9a9a" shape-rendering="crispEdges"/>
<rect x="955" y="0" width="1" height="22" fill="#9a9a9a" shape-rendering="crispEdges"/>
<rect x="956" y="0" width="1" height="22" fill="#fff" shape-rendering="crispEdges"/>
<rect x="959" y="0" width="3" height="1" fill="#9a9a9a" shape-rendering="crispEdges"/>
<rect x="959" y="1" width="3" height="1" fill="#f8f8f8" shape-rendering="crispEdges"/>
<rect x="959" y="2" width="3" height="1" fill="#9a9a9a" shape-rendering="crispEdges"/>
<rect x="959" y="3" width="3" height="1" fill="#f8f8f8" shape-rendering="crispEdges"/>
<rect x="959" y="4" width="3" height="1" fill="#9a9a9a" shape-rendering="crispEdges"/>
<rect x="959" y="5" width="3" height="1" fill="#f8f8f8" shape-rendering="crispEdges"/>
<rect x="959" y="6" width="3" height="1" fill="#9a9a9a" shape-rendering="crispEdges"/>
<rect x="959" y="7" width="3" height="1" fill="#f8f8f8" shape-rendering="crispEdges"/>
<rect x="959" y="8" width="3" height="1" fill="#9a9a9a" shape-rendering="crispEdges"/>
<rect x="959" y="9" width="3" height="1" fill="#f8f8f8" shape-rendering="crispEdges"/>
<rect x="959" y="10" width="3" height="1" fill="#9a9a9a" shape-rendering="crispEdges"/>
<rect x="959" y="11" width="3" height="1" fill="#f8f8f8" shape-rendering="crispEdges"/>
<rect x="959" y="12" width="3" height="1" fill="#9a9a9a" shape-rendering="crispEdges"/>
<rect x="959" y="13" width="3" height="1" fill="#f8f8f8" shape-rendering="crispEdges"/>
<rect x="959" y="14" width="3" height="1" fill="#9a9a9a" shape-rendering="crispEdges"/>
<rect x="959" y="15" width="3" height="1" fill="#f8f8f8" shape-rendering="crispEdges"/>
<rect x="959" y="16" width="3" height="1" fill="#9a9a9a" shape-rendering="crispEdges"/>
<rect x="959" y="17" width="3" height="1" fill="#f8f8f8" shape-rendering="crispEdges"/>
<rect x="959" y="18" width="3" height="1" fill="#9a9a9a" shape-rendering="crispEdges"/>
<rect x="959" y="19" width="3" height="1" fill="#f8f8f8" shape-rendering="crispEdges"/>
<rect x="1133" y="0" width="1" height="20" fill="#9a9a9a" shape-rendering="crispEdges"/>
<rect x="1216" y="0" width="1" height="22" fill="#9a9a9a" shape-rendering="crispEdges"/>
<rect x="1217" y="0" width="1" height="22" fill="#fff" shape-rendering="crispEdges"/>
<polygon points="559.5,9 565.5,9 562.5,12.5" fill="#000"/>
<polygon points="598.5,9 604.5,9 601.5,12.5" fill="#000"/>
<polygon points="637.5,9 643.5,9 640.5,12.5" fill="#000"/>
<polygon points="943.5,9 949.5,9 946.5,12.5" fill="#000"/>
<rect x="-3" y="3.5" width="10.5" height="13" rx="1" fill="#fff" stroke="#3f7bd6" stroke-width="1.2"/>
<rect x="0" y="7" width="6" height="1" fill="#9db9ec"/>
<rect x="0" y="9.5" width="6" height="1" fill="#9db9ec"/>
<rect x="0" y="12" width="6" height="1" fill="#9db9ec"/>
<rect x="20.5" y="2.5" width="12" height="13" fill="#f7f4ea" stroke="#b8b0a0" stroke-width="1"/>
<path d="M23.5 4v8M27.5 3.5v7M22.5 6.5h2M26.500 5.5h2" stroke="#666" stroke-width="1" fill="none"/>
<line x1="31" y1="14" x2="36.500" y2="19" stroke="#d8a21c" stroke-width="2.2"/>
<circle cx="28" cy="10.5" r="4.700" fill="#cfe3f7" fill-opacity="0.85" stroke="#7aa7e0" stroke-width="1.2"/>
<path d="M55.7 2.8h7.3l3.5 3.500v9.200h-10.800z" fill="#fff" stroke="#707070" stroke-width="1" stroke-linejoin="round"/>
<path d="M63 2.800v3.500h3.500" fill="#e4e4e4" stroke="#707070" stroke-width="0.8"/>
<path d="M57.2 5h2.600" stroke="#666" stroke-width="1.500"/><path d="M57.2 8.400h5M57.2 10.400h4.500M57.2 12.500h2" stroke="#777" stroke-width="0.900"/>
<path d="M63.1 8.3h4v3.800h3.800v4h-3.800v3.800h-4v-3.800h-3.800v-4h3.800z" fill="url(#grn)" stroke="#0a8a0a" stroke-width="0.8"/>
<path d="M122.200 12.400l5.600-9 10.200 7.400-7 7z" fill="url(#gold)" stroke="#a8700c" stroke-width="0.900" stroke-linejoin="round"/>
<path d="M122.200 12.400l8.800 5.400 7-7 0.300 1.600-7.200 7.200-9-5.600z" fill="#b07a14"/>
<path d="M123.300 13.900l7.800 4.800 6.200-6.300" stroke="#f0d890" stroke-width="0.600" fill="none"/>
<path d="M127.800 3.400c1.500-0.500 2.500 0 3 0.800" stroke="#8a5a08" stroke-width="0.800" fill="none"/>
<path d="M152.300 3.800l6.500-1.800 4.200 1.200v8.300h-10.700z" fill="#2f8ff0" stroke="#1b62c8" stroke-width="0.700"/>
<path d="M152.300 3.800l3.200 1.200v6.500h-3.200z" fill="#6cc0ff"/>
<rect x="156.300" y="5.300" width="6" height="5.500" fill="#e8f2ff"/><rect x="157.300" y="6.300" width="4" height="1" fill="#2f7fe0"/><rect x="157.300" y="8.300" width="4" height="1" fill="#2f7fe0"/>
<path d="M153 17.500a3 3 0 0 1 0.300-6 4 4 0 0 1 7.200-0.700 3.200 3.200 0 0 1 5.200 3 2 2 0 0 1-1.200 3.700z" fill="url(#bub)" stroke="#6f86b8" stroke-width="0.900"/>
<path d="M186.200 10v7.900a7.900 7.900 0 0 0 7.900-7.900z" fill="#8fd08f" fill-opacity="0.500"/>
<circle cx="186.200" cy="10" r="7.600" fill="none" stroke="url(#sig)" stroke-width="1" stroke-opacity="0.850"/>
<circle cx="186.200" cy="10" r="4.500" fill="none" stroke="url(#sig)" stroke-width="1.100"/>
<path d="M186.200 10v7.900" stroke="#1f9a1f" stroke-width="1.300"/>
<circle cx="186.200" cy="9.800" r="1.600" fill="#2a62d8"/>
<path d="M206 9.200h14l-4.300 8.400h-3.700z" fill="#f9dd55" stroke="#d4a820" stroke-width="0.600"/>
<path d="M206.300 9.700h13.400l-1 2h-11.200z" fill="#d8a828" fill-opacity="0.550"/>
<ellipse cx="213.100" cy="7.900" rx="8" ry="2.800" fill="#4a90cc" stroke="#2f70b8" stroke-width="0.600"/>
<path d="M208.400 7.600C208.400 0.800 217.900 0.800 217.900 7.600C215 8.900 211.300 8.900 208.400 7.600z" fill="#7cc0f2" stroke="#3a84d0" stroke-width="0.600"/>
<circle cx="217.500" cy="13.800" r="4.100" fill="#e0301a" stroke="#b81c0c" stroke-width="0.600"/><rect x="215.800" y="12.100" width="3.400" height="3.400" fill="#fff"/>
<path d="M299.5 18V4.500M297.0 15.500H310.5" stroke="#555" stroke-width="1.200" fill="none"/>
<path d="M297.5 6.500L299.5 3.500L301.5 6.500zM309.0 13.500L312.0 15.500L309.0 17.500z" fill="#555"/>
<path d="M303 12.500h2.500V6h2.500" stroke="#1a9a1a" stroke-width="1.400" fill="none"/>
<path d="M327.5 18V4.500M325.0 15.500H338.5" stroke="#555" stroke-width="1.200" fill="none"/>
<path d="M325.5 6.500L327.5 3.500L329.5 6.500zM337.0 13.500L340.0 15.500L337.0 17.500z" fill="#555"/>
<path d="M333.500 2v12" stroke="#0d8a0d" stroke-width="1.200"/><rect x="331.500" y="4.500" width="4" height="7" fill="#3fdc3f" stroke="#0d8a0d" stroke-width="0.900"/>
<path d="M355.5 18V4.500M353.0 15.500H366.5" stroke="#555" stroke-width="1.200" fill="none"/>
<path d="M353.5 6.500L355.5 3.500L357.5 6.500zM365.0 13.500L368.0 15.500L365.0 17.500z" fill="#555"/>
<path d="M354 13c3-2 4-5.500 6-5.500s3 2.500 6 4" stroke="#2a9a2a" stroke-width="1.300" fill="none"/>
<line x1="395" y1="12" x2="400" y2="17" stroke="#d9a81e" stroke-width="2.400" stroke-linecap="round"/>
<circle cx="391" cy="8" r="5.300" fill="url(#lens)" stroke="#2f7fe0" stroke-width="1.300"/>
<rect x="388" y="7.200" width="6" height="1.600" fill="#2a6fb8"/>
<rect x="390.2" y="5" width="1.600" height="6" fill="#2a6fb8"/>
<line x1="423" y1="12" x2="428" y2="17" stroke="#d9a81e" stroke-width="2.400" stroke-linecap="round"/>
<circle cx="419" cy="8" r="5.300" fill="url(#lens)" stroke="#2f7fe0" stroke-width="1.300"/>
<rect x="416" y="7.200" width="6" height="1.600" fill="#2a6fb8"/>
<rect x="441" y="2" width="7.800" height="7.800" fill="url(#grn2)"/>
<rect x="442.5" y="5" width="5" height="3.800" fill="#fff" fill-opacity="0.92"/>
<rect x="443.3" y="6.3" width="3.400" height="1" fill="#8fc878"/>
<rect x="449.5" y="2" width="7.800" height="7.800" fill="url(#blu)"/>
<rect x="451.0" y="5" width="5" height="3.800" fill="#fff" fill-opacity="0.92"/>
<rect x="451.8" y="6.3" width="3.400" height="1" fill="#8ab0f0"/>
<rect x="441" y="10.5" width="7.800" height="7.800" fill="url(#blu)"/>
<rect x="442.5" y="13.5" width="5" height="3.800" fill="#fff" fill-opacity="0.92"/>
<rect x="443.3" y="14.8" width="3.400" height="1" fill="#8ab0f0"/>
<rect x="449.5" y="10.5" width="7.800" height="7.800" fill="url(#grn2)"/>
<rect x="451.0" y="13.5" width="5" height="3.800" fill="#fff" fill-opacity="0.92"/>
<rect x="451.8" y="14.8" width="3.400" height="1" fill="#8fc878"/>
<path d="M479.5 18V4.500M477.0 15.500H490.5" stroke="#555" stroke-width="1.200" fill="none"/>
<path d="M477.5 6.500L479.5 3.500L481.5 6.500zM489.0 13.500L492.0 15.500L489.0 17.500z" fill="#555"/>
<path d="M484.500 6.500v6.500l3.500-3.200z" fill="#7fe07f" stroke="#1a9a1a" stroke-width="1"/>
<path d="M507.5 18V4.500M505.0 15.500H518.5" stroke="#555" stroke-width="1.200" fill="none"/>
<path d="M505.5 6.500L507.5 3.500L509.5 6.500zM517.0 13.500L520.0 15.500L517.0 17.500z" fill="#555"/>
<path d="M513.500 4v9.500" stroke="#1a6aa8" stroke-width="1.300"/><path d="M514.500 9.300l3-2.500v1.700h2v1.600h-2v1.700z" fill="#e0561a"/>
<path d="M538.7 2.8h7.3l3.5 3.500v9.200h-10.800z" fill="#fff" stroke="#707070" stroke-width="1" stroke-linejoin="round"/>
<path d="M546 2.800v3.500h3.500" fill="#e4e4e4" stroke="#707070" stroke-width="0.8"/>
<path d="M540.2 5h2.600" stroke="#666" stroke-width="1.500"/><path d="M540.2 8.400h5M540.2 10.400h4.500M540.2 12.500h2" stroke="#777" stroke-width="0.900"/>
<path d="M546.1 8.3h4v3.800h3.800v4h-3.800v3.800h-4v-3.800h-3.800v-4h3.800z" fill="url(#grn)" stroke="#0a8a0a" stroke-width="0.8"/>
<circle cx="584" cy="10" r="6.900" fill="#fff" stroke="#1c6fd8" stroke-width="2.800"/>
<circle cx="584" cy="10" r="8.300" fill="none" stroke="#0f4fa8" stroke-width="0.600"/>
<path d="M584 5.500v4.700h3.300" stroke="#333" stroke-width="1.200" fill="none"/>
<rect x="615.500" y="3.500" width="15" height="13" fill="#fff" stroke="#3f7bd6" stroke-width="1.200"/><rect x="615.500" y="3.500" width="15" height="2" fill="#5a93e6"/>
<rect x="616" y="10.800" width="14" height="0.800" fill="#3f7bd6"/>
<path d="M617.500 9.500l2.500-0.500 2.500-1.500 2.500 1 3.500-1.500" stroke="#a01a1a" stroke-width="1.200" fill="none"/>
<path d="M617.500 15l2.500-1 2 0.500 3-2 3 2" stroke="#1a8a1a" stroke-width="1.100" fill="none"/>
<path d="M667.500 2.800v11.700l2.800-2.500 2.200 5 1.900-0.900-2.200-4.800h3.800z" fill="#4a4a4a"/>
<path d="M699.500 3v6M699.500 12v6M692 10.500h6M701 10.500h6" stroke="#555" stroke-width="1.100"/>
<path d="M733.500 4v13" stroke="#555" stroke-width="1.200"/>
<path d="M756 10.500h12" stroke="#555" stroke-width="1.200"/>
<path d="M784 16.800L796 5" stroke="#555" stroke-width="1.200"/>
<path d="M810 12l13-8M811.500 16.500l12-8M814 6.500l-1.500 10M818.500 3.500l-2 12M822 2l-1.500 9" stroke="#555" stroke-width="1" fill="none"/>
<text x="820.300" y="18.800" font-size="7" font-weight="bold" fill="#444">E</text>
<line x1="839" y1="3.5" x2="852" y2="3.5" stroke="#555" stroke-width="1.100" stroke-dasharray="1 1"/>
<line x1="839" y1="6.5" x2="852" y2="6.5" stroke="#555" stroke-width="1.100" stroke-dasharray="1 1"/>
<line x1="839" y1="10.5" x2="852" y2="10.5" stroke="#555" stroke-width="1.100" stroke-dasharray="1 1"/>
<line x1="839" y1="14.5" x2="848" y2="14.5" stroke="#555" stroke-width="1.100" stroke-dasharray="1 1"/>
<text x="848.500" y="18.800" font-size="7" font-weight="bold" fill="#444">F</text>
<text x="869.300" y="15.200" font-size="13" font-weight="bold" fill="#555" textLength="9" lengthAdjust="spacingAndGlyphs">A</text>
<rect x="896.500" y="4.500" width="11" height="12" fill="none" stroke="#555" stroke-width="1" stroke-dasharray="1 1" shape-rendering="crispEdges"/>
<path d="M898.500 7h7M902 7v7.500" stroke="#555" stroke-width="1.500" fill="none"/>
<path d="M923 7.500l3.500-4 3.500 4-3.500 1.800zM930.500 13.500l3.500 1.800 3.500-1.800-3.500 4z" fill="#444"/><path d="M925.500 10.500l2.500 2.500 4.500-6" stroke="#444" stroke-width="1.400" fill="none"/>
<text x="970.6" y="13.900" font-size="9" class="tf2" fill="#333" textLength="12.6" lengthAdjust="spacingAndGlyphs">M1</text>
<text x="998.6" y="13.900" font-size="9" class="tf2" fill="#333" textLength="12.6" lengthAdjust="spacingAndGlyphs">M5</text>
<text x="1024.6" y="13.900" font-size="9" class="tf2" fill="#333" textLength="17.6" lengthAdjust="spacingAndGlyphs">M15</text>
<text x="1052.7" y="13.900" font-size="9" class="tf2" fill="#333" textLength="17.6" lengthAdjust="spacingAndGlyphs">M30</text>
<text x="1083.4" y="13.900" font-size="9" class="tf2" fill="#333" textLength="11.7" lengthAdjust="spacingAndGlyphs">H1</text>
<text x="1110.6" y="13.900" font-size="9" class="tf2" fill="#333" textLength="12.6" lengthAdjust="spacingAndGlyphs">H4</text>
<text x="1139.5" y="13.900" font-size="9" class="tf2" fill="#333" textLength="11.7" lengthAdjust="spacingAndGlyphs">D1</text>
<text x="1167.1" y="13.900" font-size="9" class="tf2" fill="#333" textLength="14.3" lengthAdjust="spacingAndGlyphs">W1</text>
<text x="1193.5" y="13.900" font-size="9" class="tf2" fill="#333" textLength="14.7" lengthAdjust="spacingAndGlyphs">MN</text>
<line x1="1683.800" y1="10.800" x2="1679" y2="15.200" stroke="#2a5fd0" stroke-width="2.300" stroke-linecap="round"/>
<circle cx="1686.800" cy="7.600" r="3.500" fill="#f4f4f8" stroke="#2a5fd0" stroke-width="1.300"/>
<path d="M1722 11.500l1.500 2.500-3.500-2z" fill="#cfd0d8" stroke="#9a9aa2" stroke-width="0.600"/>
<ellipse cx="1719.500" cy="7.300" rx="6.300" ry="4.800" fill="url(#bub)" stroke="#a2a2aa" stroke-width="0.900"/>
<path d="M1708 14l-0.800 2.800 3.500-2z" fill="#cfd0d8" stroke="#9a9aa2" stroke-width="0.600"/>
<ellipse cx="1710.300" cy="11.100" rx="4.800" ry="3.700" fill="url(#bub)" stroke="#a2a2aa" stroke-width="0.900"/>
</svg>
<div class="tbt" style="left:74px">新订单</div>
<div class="tbt" style="left:226px">自动交易</div>
</body></html>
